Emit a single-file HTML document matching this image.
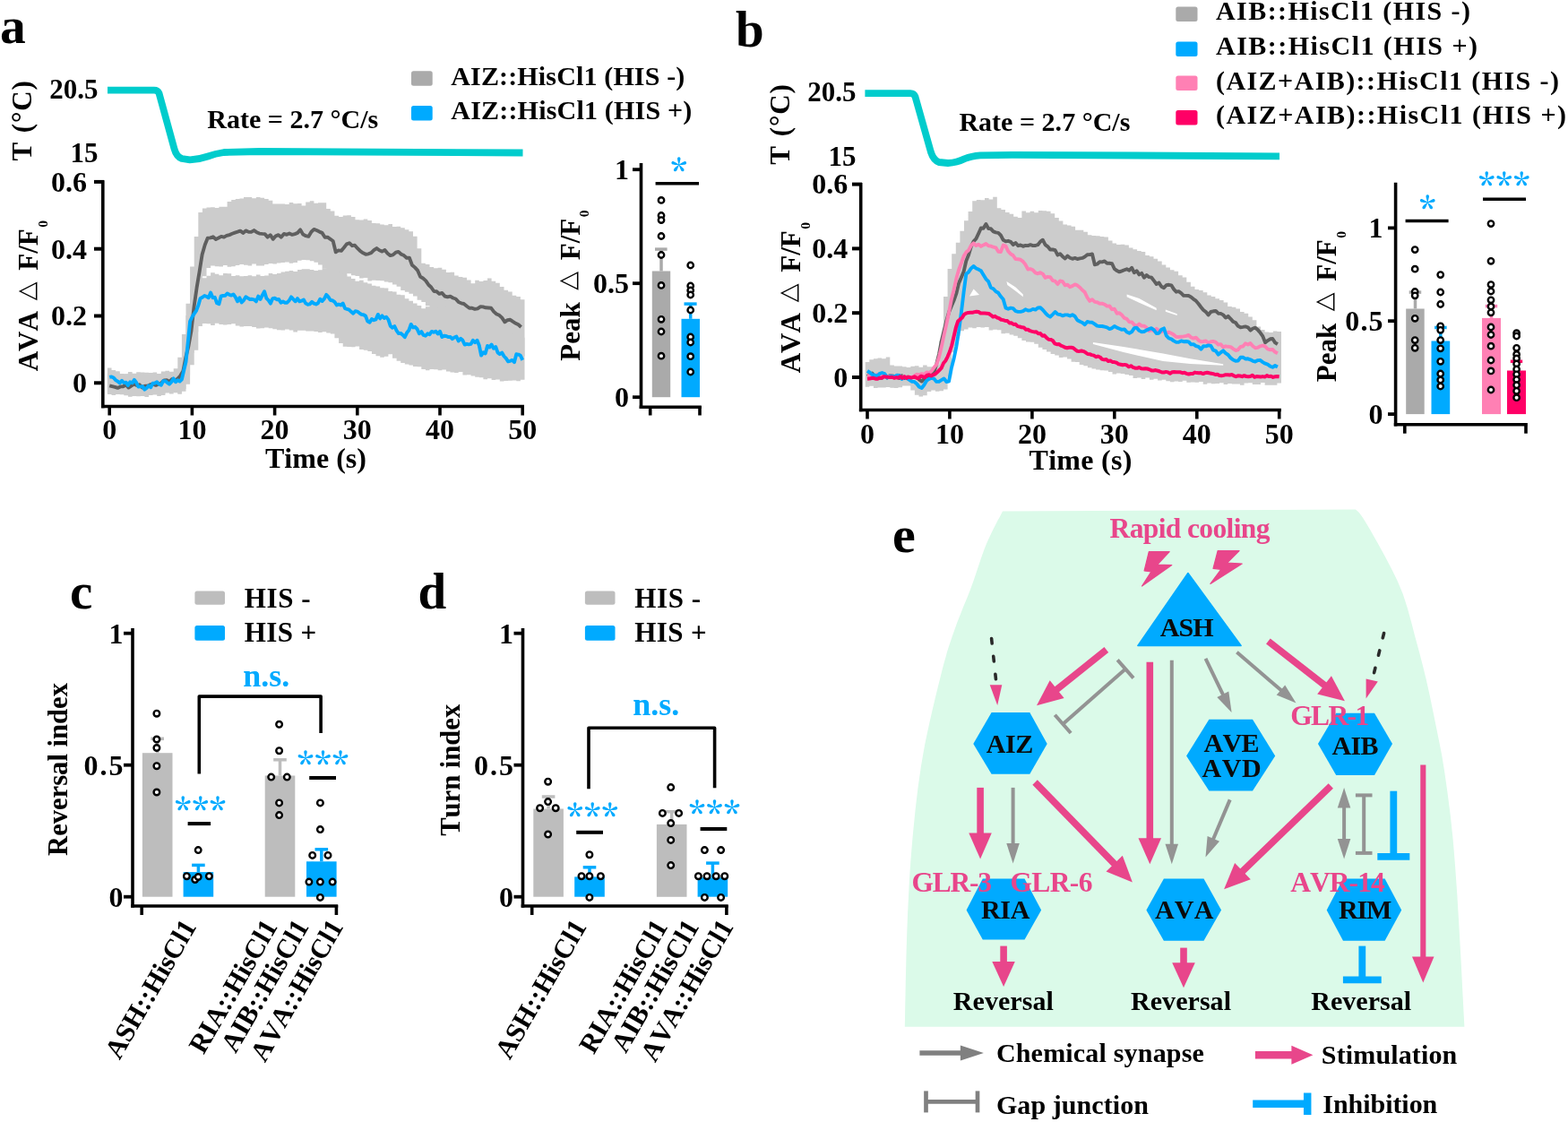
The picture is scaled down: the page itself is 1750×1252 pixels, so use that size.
<!DOCTYPE html>
<html><head><meta charset="utf-8"><title>Figure</title>
<style>html,body{margin:0;padding:0;background:#fff;width:1750px;height:1252px;overflow:hidden}svg{display:block}</style></head>
<body><svg width="1750" height="1252" viewBox="0 0 1750 1252">
<g font-family="'Liberation Serif', 'DejaVu Serif', serif" font-weight="bold" style="font-kerning:none">
<text x="0.0" y="48.0" font-size="57.5" fill="#000" text-anchor="start" >a</text>
<path d="M120,100.6 L172,100.6 Q176,100.6 177.5,104 L194.5,166 Q197,175 203,177 L212,178.3 Q222,178 232,174.5 Q240,171.5 250,170 L290,169 L583.5,170.5" fill="none" stroke="#00cccc" stroke-width="7.8" stroke-linejoin="round"/>
<text transform="translate(35.3,179.6) rotate(-90)" font-size="31"><tspan x="0" y="0">T</tspan><tspan x="31.4" y="0" letter-spacing="0.9">(°C)</tspan></text>
<text x="109.4" y="110.0" font-size="31" fill="#000" text-anchor="end" >20.5</text>
<text x="109.4" y="180.5" font-size="31" fill="#000" text-anchor="end" >15</text>
<text x="231.3" y="142.8" font-size="30" fill="#000" text-anchor="start" textLength="191">Rate = 2.7 °C/s</text>
<rect x="459" y="79.3" width="23.7" height="16.4" rx="2.5" fill="#aaaaaa"/>
<rect x="459" y="118" width="23.7" height="16.6" rx="2.5" fill="#00aaff"/>
<text x="503.3" y="94.6" font-size="30" fill="#000" text-anchor="start" textLength="261">AIZ::HisCl1 (HIS -)</text>
<text x="503.3" y="133.4" font-size="30" fill="#000" text-anchor="start" textLength="269">AIZ::HisCl1 (HIS +)</text>
<polygon points="119.9,410.6 124.5,410.6 124.5,413.1 129.1,413.1 129.1,414.2 133.7,414.2 133.7,417.6 138.3,417.6 138.3,417.2 142.9,417.2 142.9,415.1 147.6,415.1 147.6,417.4 152.2,417.4 152.2,417.5 156.8,417.5 156.8,418.3 161.4,418.3 161.4,418.9 166.0,418.9 166.0,420.1 170.6,420.1 170.6,418.5 175.2,418.5 175.2,417.9 179.8,417.9 179.8,414.4 184.4,414.4 184.4,413.8 189.0,413.8 189.0,414.8 193.7,414.8 193.7,411.3 198.3,411.3 198.3,398.7 202.9,398.7 202.9,373.0 207.5,373.0 207.5,338.8 212.1,338.8 212.1,297.5 216.7,297.5 216.7,263.9 221.3,263.9 221.3,237.1 225.9,237.1 225.9,232.6 230.5,232.6 230.5,231.5 235.1,231.5 235.1,231.3 239.8,231.3 239.8,232.0 244.4,232.0 244.4,230.7 249.0,230.7 249.0,230.8 253.6,230.8 253.6,225.1 258.2,225.1 258.2,223.1 262.8,223.1 262.8,221.9 267.4,221.9 267.4,221.4 272.0,221.4 272.0,220.1 276.6,220.1 276.6,219.9 281.2,219.9 281.2,221.2 285.9,221.2 285.9,219.9 290.5,219.9 290.5,220.7 295.1,220.7 295.1,222.0 299.7,222.0 299.7,223.8 304.3,223.8 304.3,227.4 308.9,227.4 308.9,227.6 313.5,227.6 313.5,227.5 318.1,227.5 318.1,228.1 322.7,228.1 322.7,226.0 327.3,226.0 327.3,227.3 332.0,227.3 332.0,227.0 336.6,227.0 336.6,229.4 341.2,229.4 341.2,225.6 345.8,225.6 345.8,224.3 350.4,224.3 350.4,226.8 355.0,226.8 355.0,226.2 359.6,226.2 359.6,226.2 364.2,226.2 364.2,232.9 368.8,232.9 368.8,235.5 373.4,235.5 373.4,240.7 378.1,240.7 378.1,241.9 382.7,241.9 382.7,240.5 387.3,240.5 387.3,240.3 391.9,240.3 391.9,242.1 396.5,242.1 396.5,245.3 401.1,245.3 401.1,245.5 405.7,245.5 405.7,244.5 410.3,244.5 410.3,246.1 414.9,246.1 414.9,248.9 419.5,248.9 419.5,249.3 424.2,249.3 424.2,250.5 428.8,250.5 428.8,251.3 433.4,251.3 433.4,249.9 438.0,249.9 438.0,252.9 442.6,252.9 442.6,252.8 447.2,252.8 447.2,254.3 451.8,254.3 451.8,256.2 456.4,256.2 456.4,258.3 461.0,258.3 461.0,263.8 465.6,263.8 465.6,277.3 470.3,277.3 470.3,293.8 474.9,293.8 474.9,295.1 479.5,295.1 479.5,298.0 484.1,298.0 484.1,299.3 488.7,299.3 488.7,298.7 493.3,298.7 493.3,300.8 497.9,300.8 497.9,303.9 502.5,303.9 502.5,303.8 507.1,303.8 507.1,307.4 511.7,307.4 511.7,309.0 516.4,309.0 516.4,309.7 521.0,309.7 521.0,312.5 525.6,312.5 525.6,316.3 530.2,316.3 530.2,312.7 534.8,312.7 534.8,314.1 539.4,314.1 539.4,313.0 544.0,313.0 544.0,310.5 548.6,310.5 548.6,313.7 553.2,313.7 553.2,315.7 557.8,315.7 557.8,320.1 562.5,320.1 562.5,323.8 567.1,323.8 567.1,325.5 571.7,325.5 571.7,329.7 576.3,329.7 576.3,331.1 580.9,331.1 580.9,334.2 585.5,334.2 585.5,397.4 580.9,397.4 580.9,394.9 576.3,394.9 576.3,394.4 571.7,394.4 571.7,391.8 567.1,391.8 567.1,389.6 562.5,389.6 562.5,387.6 557.8,387.6 557.8,381.7 553.2,381.7 553.2,379.9 548.6,379.9 548.6,373.9 544.0,373.9 544.0,374.2 539.4,374.2 539.4,372.8 534.8,372.8 534.8,371.4 530.2,371.4 530.2,371.5 525.6,371.5 525.6,367.7 521.0,367.7 521.0,364.5 516.4,364.5 516.4,361.3 511.7,361.3 511.7,359.6 507.1,359.6 507.1,359.4 502.5,359.4 502.5,355.9 497.9,355.9 497.9,354.1 493.3,354.1 493.3,352.9 488.7,352.9 488.7,349.3 484.1,349.3 484.1,346.7 479.5,346.7 479.5,341.3 474.9,341.3 474.9,337.0 470.3,337.0 470.3,334.7 465.6,334.7 465.6,330.6 461.0,330.6 461.0,327.8 456.4,327.8 456.4,325.8 451.8,325.8 451.8,324.1 447.2,324.1 447.2,319.8 442.6,319.8 442.6,317.6 438.0,317.6 438.0,315.2 433.4,315.2 433.4,314.4 428.8,314.4 428.8,313.2 424.2,313.2 424.2,312.9 419.5,312.9 419.5,312.7 414.9,312.7 414.9,313.4 410.3,313.4 410.3,309.9 405.7,309.9 405.7,310.5 401.1,310.5 401.1,307.9 396.5,307.9 396.5,307.2 391.9,307.2 391.9,305.3 387.3,305.3 387.3,311.9 382.7,311.9 382.7,313.7 378.1,313.7 378.1,312.6 373.4,312.6 373.4,310.1 368.8,310.1 368.8,306.3 364.2,306.3 364.2,299.7 359.6,299.7 359.6,295.6 355.0,295.6 355.0,292.7 350.4,292.7 350.4,291.3 345.8,291.3 345.8,290.3 341.2,290.3 341.2,289.9 336.6,289.9 336.6,290.7 332.0,290.7 332.0,292.9 327.3,292.9 327.3,293.8 322.7,293.8 322.7,292.4 318.1,292.4 318.1,293.1 313.5,293.1 313.5,293.6 308.9,293.6 308.9,294.4 304.3,294.4 304.3,293.9 299.7,293.9 299.7,295.0 295.1,295.0 295.1,296.4 290.5,296.4 290.5,296.5 285.9,296.5 285.9,294.5 281.2,294.5 281.2,296.6 276.6,296.6 276.6,295.7 272.0,295.7 272.0,295.1 267.4,295.1 267.4,296.1 262.8,296.1 262.8,297.2 258.2,297.2 258.2,297.8 253.6,297.8 253.6,295.9 249.0,295.9 249.0,297.6 244.4,297.6 244.4,297.3 239.8,297.3 239.8,296.4 235.1,296.4 235.1,298.9 230.5,298.9 230.5,308.2 225.9,308.2 225.9,314.5 221.3,314.5 221.3,390.7 216.7,390.7 216.7,407.2 212.1,407.2 212.1,428.7 207.5,428.7 207.5,434.1 202.9,434.1 202.9,438.8 198.3,438.8 198.3,438.2 193.7,438.2 193.7,437.4 189.0,437.4 189.0,437.2 184.4,437.2 184.4,439.4 179.8,439.4 179.8,437.2 175.2,437.2 175.2,437.8 170.6,437.8 170.6,439.4 166.0,439.4 166.0,439.3 161.4,439.3 161.4,437.6 156.8,437.6 156.8,437.3 152.2,437.3 152.2,439.6 147.6,439.6 147.6,439.5 142.9,439.5 142.9,437.4 138.3,437.4 138.3,438.3 133.7,438.3 133.7,438.6 129.1,438.6 129.1,437.1 124.5,437.1 124.5,438.7 119.9,438.7" fill="#cccccc" />
<polygon points="119.9,416.2 124.5,416.2 124.5,415.6 129.1,415.6 129.1,415.6 133.7,415.6 133.7,417.1 138.3,417.1 138.3,417.5 142.9,417.5 142.9,416.5 147.6,416.5 147.6,416.8 152.2,416.8 152.2,415.2 156.8,415.2 156.8,415.5 161.4,415.5 161.4,415.8 166.0,415.8 166.0,415.9 170.6,415.9 170.6,415.6 175.2,415.6 175.2,417.1 179.8,417.1 179.8,416.3 184.4,416.3 184.4,417.1 189.0,417.1 189.0,414.9 193.7,414.9 193.7,417.4 198.3,417.4 198.3,415.1 202.9,415.1 202.9,398.7 207.5,398.7 207.5,351.9 212.1,351.9 212.1,323.1 216.7,323.1 216.7,315.4 221.3,315.4 221.3,310.3 225.9,310.3 225.9,310.3 230.5,310.3 230.5,307.7 235.1,307.7 235.1,304.3 239.8,304.3 239.8,305.8 244.4,305.8 244.4,307.3 249.0,307.3 249.0,304.9 253.6,304.9 253.6,305.3 258.2,305.3 258.2,308.0 262.8,308.0 262.8,307.3 267.4,307.3 267.4,308.3 272.0,308.3 272.0,308.0 276.6,308.0 276.6,307.3 281.2,307.3 281.2,308.3 285.9,308.3 285.9,306.4 290.5,306.4 290.5,308.0 295.1,308.0 295.1,307.4 299.7,307.4 299.7,305.1 304.3,305.1 304.3,306.0 308.9,306.0 308.9,305.0 313.5,305.0 313.5,303.4 318.1,303.4 318.1,302.7 322.7,302.7 322.7,302.0 327.3,302.0 327.3,303.0 332.0,303.0 332.0,301.0 336.6,301.0 336.6,300.2 341.2,300.2 341.2,300.2 345.8,300.2 345.8,301.1 350.4,301.1 350.4,302.1 355.0,302.1 355.0,301.3 359.6,301.3 359.6,299.6 364.2,299.6 364.2,299.6 368.8,299.6 368.8,301.3 373.4,301.3 373.4,302.8 378.1,302.8 378.1,304.3 382.7,304.3 382.7,306.7 387.3,306.7 387.3,308.6 391.9,308.6 391.9,310.9 396.5,310.9 396.5,313.7 401.1,313.7 401.1,312.7 405.7,312.7 405.7,315.3 410.3,315.3 410.3,316.5 414.9,316.5 414.9,318.8 419.5,318.8 419.5,319.6 424.2,319.6 424.2,321.2 428.8,321.2 428.8,321.5 433.4,321.5 433.4,324.9 438.0,324.9 438.0,325.6 442.6,325.6 442.6,328.8 447.2,328.8 447.2,329.3 451.8,329.3 451.8,333.3 456.4,333.3 456.4,335.7 461.0,335.7 461.0,338.6 465.6,338.6 465.6,340.9 470.3,340.9 470.3,344.2 474.9,344.2 474.9,342.2 479.5,342.2 479.5,342.2 484.1,342.2 484.1,342.9 488.7,342.9 488.7,343.2 493.3,343.2 493.3,342.2 497.9,342.2 497.9,344.1 502.5,344.1 502.5,343.2 507.1,343.2 507.1,346.0 511.7,346.0 511.7,344.2 516.4,344.2 516.4,346.4 521.0,346.4 521.0,347.4 525.6,347.4 525.6,346.1 530.2,346.1 530.2,348.0 534.8,348.0 534.8,353.0 539.4,353.0 539.4,354.6 544.0,354.6 544.0,355.4 548.6,355.4 548.6,360.5 553.2,360.5 553.2,364.5 557.8,364.5 557.8,368.9 562.5,368.9 562.5,372.6 567.1,372.6 567.1,372.2 571.7,372.2 571.7,372.6 576.3,372.6 576.3,373.9 580.9,373.9 580.9,376.8 585.5,376.8 585.5,423.7 580.9,423.7 580.9,425.2 576.3,425.2 576.3,424.4 571.7,424.4 571.7,424.8 567.1,424.8 567.1,424.9 562.5,424.9 562.5,425.5 557.8,425.5 557.8,423.6 553.2,423.6 553.2,423.9 548.6,423.9 548.6,422.3 544.0,422.3 544.0,423.2 539.4,423.2 539.4,421.3 534.8,421.3 534.8,420.8 530.2,420.8 530.2,419.4 525.6,419.4 525.6,418.3 521.0,418.3 521.0,418.6 516.4,418.6 516.4,415.0 511.7,415.0 511.7,416.0 507.1,416.0 507.1,415.5 502.5,415.5 502.5,414.4 497.9,414.4 497.9,412.6 493.3,412.6 493.3,413.3 488.7,413.3 488.7,412.3 484.1,412.3 484.1,412.0 479.5,412.0 479.5,413.2 474.9,413.2 474.9,412.0 470.3,412.0 470.3,409.2 465.6,409.2 465.6,408.9 461.0,408.9 461.0,407.4 456.4,407.4 456.4,406.5 451.8,406.5 451.8,404.9 447.2,404.9 447.2,402.7 442.6,402.7 442.6,399.8 438.0,399.8 438.0,395.3 433.4,395.3 433.4,397.7 428.8,397.7 428.8,398.8 424.2,398.8 424.2,397.3 419.5,397.3 419.5,395.0 414.9,395.0 414.9,392.1 410.3,392.1 410.3,390.7 405.7,390.7 405.7,390.0 401.1,390.0 401.1,386.5 396.5,386.5 396.5,387.2 391.9,387.2 391.9,387.1 387.3,387.1 387.3,386.7 382.7,386.7 382.7,383.0 378.1,383.0 378.1,377.2 373.4,377.2 373.4,372.4 368.8,372.4 368.8,371.6 364.2,371.6 364.2,370.3 359.6,370.3 359.6,371.1 355.0,371.1 355.0,370.0 350.4,370.0 350.4,369.6 345.8,369.6 345.8,369.4 341.2,369.4 341.2,368.7 336.6,368.7 336.6,368.8 332.0,368.8 332.0,370.5 327.3,370.5 327.3,368.4 322.7,368.4 322.7,367.6 318.1,367.6 318.1,368.4 313.5,368.4 313.5,368.2 308.9,368.2 308.9,367.2 304.3,367.2 304.3,366.3 299.7,366.3 299.7,365.6 295.1,365.6 295.1,366.2 290.5,366.2 290.5,366.4 285.9,366.4 285.9,365.0 281.2,365.0 281.2,364.1 276.6,364.1 276.6,363.9 272.0,363.9 272.0,364.5 267.4,364.5 267.4,363.6 262.8,363.6 262.8,361.3 258.2,361.3 258.2,362.0 253.6,362.0 253.6,362.6 249.0,362.6 249.0,362.1 244.4,362.1 244.4,360.7 239.8,360.7 239.8,363.0 235.1,363.0 235.1,361.3 230.5,361.3 230.5,361.1 225.9,361.1 225.9,364.0 221.3,364.0 221.3,370.6 216.7,370.6 216.7,393.7 212.1,393.7 212.1,418.7 207.5,418.7 207.5,436.8 202.9,436.8 202.9,439.7 198.3,439.7 198.3,437.5 193.7,437.5 193.7,439.6 189.0,439.6 189.0,438.6 184.4,438.6 184.4,441.0 179.8,441.0 179.8,442.1 175.2,442.1 175.2,440.6 170.6,440.6 170.6,440.9 166.0,440.9 166.0,443.0 161.4,443.0 161.4,441.9 156.8,441.9 156.8,442.3 152.2,442.3 152.2,442.1 147.6,442.1 147.6,442.7 142.9,442.7 142.9,441.2 138.3,441.2 138.3,440.3 133.7,440.3 133.7,440.1 129.1,440.1 129.1,440.9 124.5,440.9 124.5,439.9 119.9,439.9" fill="#cccccc" />
<polyline points="122.2,430.3 125.2,431.1 128.3,431.9 131.3,432.9 134.4,431.4 137.4,431.2 140.5,429.5 143.5,432.6 146.5,430.7 149.6,428.7 152.6,430.0 155.7,429.3 158.7,432.5 161.8,430.6 164.8,430.8 167.8,429.1 170.9,428.4 173.9,429.9 177.0,428.5 180.0,427.5 183.1,424.4 186.1,424.2 189.1,425.9 192.2,422.9 195.2,424.8 198.3,422.5 201.3,419.3 204.4,413.9 207.4,398.4 210.4,386.2 213.5,368.9 216.5,342.7 219.6,320.9 222.6,303.2 225.6,284.1 228.7,273.2 231.7,265.7 234.8,265.4 237.8,264.3 240.9,267.0 243.9,265.5 246.9,263.9 250.0,264.6 253.0,262.9 256.1,262.1 259.1,260.8 262.2,259.6 265.2,258.7 268.2,257.6 271.3,259.9 274.3,257.4 277.4,258.7 280.4,258.9 283.5,257.1 286.5,259.2 289.5,260.6 292.6,260.9 295.6,261.1 298.7,264.6 301.7,262.2 304.8,266.8 307.8,263.3 310.8,262.2 313.9,264.6 316.9,260.9 320.0,261.8 323.0,260.4 326.1,261.9 329.1,261.1 332.1,259.9 335.2,256.4 338.2,261.6 341.3,263.2 344.3,263.9 347.4,258.7 350.4,255.9 353.4,257.0 356.5,258.6 359.5,259.9 362.6,264.7 365.6,264.7 368.7,266.8 371.7,269.0 374.7,281.3 377.8,279.4 380.8,279.9 383.9,276.2 386.9,272.4 389.9,271.2 393.0,274.2 396.0,273.7 399.1,277.2 402.1,280.2 405.2,282.3 408.2,283.8 411.2,283.3 414.3,282.1 417.3,279.2 420.4,277.1 423.4,279.3 426.5,280.6 429.5,279.0 432.5,282.7 435.6,285.1 438.6,284.4 441.7,281.7 444.7,280.9 447.8,283.7 450.8,285.1 453.8,287.8 456.9,287.8 459.9,295.7 463.0,298.4 466.0,301.6 469.1,308.8 472.1,310.5 475.1,313.1 478.2,317.7 481.2,320.5 484.3,325.0 487.3,325.3 490.4,327.9 493.4,326.9 496.4,330.5 499.5,331.3 502.5,330.6 505.6,332.5 508.6,333.5 511.7,336.9 514.7,338.3 517.7,339.0 520.8,341.5 523.8,343.7 526.9,343.7 529.9,344.9 533.0,344.3 536.0,342.3 539.0,342.4 542.1,343.3 545.1,343.5 548.2,343.8 551.2,347.9 554.2,350.5 557.3,351.8 560.3,354.7 563.4,359.3 566.4,357.2 569.5,356.8 572.5,358.9 575.5,360.8 578.6,362.3 581.6,365.0" fill="none" stroke="#5f5f5f" stroke-width="3.9" stroke-linejoin="round" />
<polyline points="122.2,420.9 124.5,420.4 126.8,421.5 129.1,424.1 131.4,425.6 133.7,427.5 136.0,424.8 138.3,427.1 140.6,426.6 142.9,430.1 145.2,426.3 147.6,427.3 149.9,423.9 152.2,427.0 154.5,431.6 156.8,431.4 159.1,431.1 161.4,434.6 163.7,433.0 166.0,430.2 168.3,432.2 170.6,427.7 172.9,427.5 175.2,426.2 177.5,428.8 179.8,429.8 182.1,425.3 184.4,425.1 186.7,427.0 189.0,428.6 191.4,426.1 193.7,422.4 196.0,426.3 198.3,424.2 200.6,425.6 202.9,423.3 205.2,413.3 207.5,403.8 209.8,381.8 212.1,358.5 214.4,353.8 216.7,350.1 219.0,346.9 221.3,340.9 223.6,332.9 225.9,331.7 228.2,330.0 230.5,330.8 232.8,332.3 235.1,326.6 237.5,332.2 239.8,331.8 242.1,338.3 244.4,339.2 246.7,330.5 249.0,330.0 251.3,329.9 253.6,327.5 255.9,328.8 258.2,329.6 260.5,328.4 262.8,331.6 265.1,336.3 267.4,332.3 269.7,337.4 272.0,335.1 274.3,331.3 276.6,332.6 278.9,334.0 281.2,333.8 283.6,334.3 285.9,336.4 288.2,330.6 290.5,334.0 292.8,329.5 295.1,325.3 297.4,332.9 299.7,335.2 302.0,338.6 304.3,333.1 306.6,332.6 308.9,334.2 311.2,334.0 313.5,337.7 315.8,336.5 318.1,337.8 320.4,337.7 322.7,335.4 325.0,331.4 327.3,333.8 329.7,336.3 332.0,333.0 334.3,336.4 336.6,335.7 338.9,334.5 341.2,338.6 343.5,339.7 345.8,339.4 348.1,336.9 350.4,338.6 352.7,339.5 355.0,338.2 357.3,333.7 359.6,336.0 361.9,333.4 364.2,328.9 366.5,331.4 368.8,335.0 371.1,335.3 373.4,336.9 375.8,340.4 378.1,339.6 380.4,340.5 382.7,338.5 385.0,344.1 387.3,344.8 389.6,345.6 391.9,347.8 394.2,349.8 396.5,347.2 398.8,347.6 401.1,349.3 403.4,350.9 405.7,351.2 408.0,352.5 410.3,358.6 412.6,359.8 414.9,356.1 417.2,357.3 419.5,356.4 421.9,350.9 424.2,355.4 426.5,352.4 428.8,355.1 431.1,353.7 433.4,356.6 435.7,363.7 438.0,365.7 440.3,364.0 442.6,368.8 444.9,372.1 447.2,371.9 449.5,373.7 451.8,376.2 454.1,371.3 456.4,368.5 458.7,361.9 461.0,365.5 463.3,364.8 465.6,367.2 467.9,372.2 470.3,370.1 472.6,374.0 474.9,374.7 477.2,372.3 479.5,373.2 481.8,369.9 484.1,370.8 486.4,369.7 488.7,372.5 491.0,369.7 493.3,376.1 495.6,374.8 497.9,375.0 500.2,376.1 502.5,375.9 504.8,378.2 507.1,376.5 509.4,375.6 511.7,380.5 514.1,377.7 516.4,379.8 518.7,384.6 521.0,383.8 523.3,384.3 525.6,383.9 527.9,379.8 530.2,382.2 532.5,379.7 534.8,385.5 537.1,396.6 539.4,393.2 541.7,394.4 544.0,386.0 546.3,387.5 548.6,384.5 550.9,388.8 553.2,387.0 555.5,393.4 557.8,395.2 560.2,393.6 562.5,397.5 564.8,399.9 567.1,403.3 569.4,402.8 571.7,401.9 574.0,404.2 576.3,395.3 578.6,395.6 580.9,396.8 583.2,401.9" fill="none" stroke="#00aaff" stroke-width="3.9" stroke-linejoin="round" />
<line x1="114.8" y1="201.2" x2="114.8" y2="455.3" stroke="#000" stroke-width="3.6" />
<line x1="113.0" y1="453.5" x2="585.0" y2="453.5" stroke="#000" stroke-width="3.6" />
<line x1="105.0" y1="427.3" x2="116.0" y2="427.3" stroke="#000" stroke-width="4" />
<line x1="105.0" y1="352.5" x2="116.0" y2="352.5" stroke="#000" stroke-width="4" />
<line x1="105.0" y1="277.7" x2="116.0" y2="277.7" stroke="#000" stroke-width="4" />
<line x1="105.0" y1="202.9" x2="116.0" y2="202.9" stroke="#000" stroke-width="4" />
<line x1="122.2" y1="452.0" x2="122.2" y2="463.5" stroke="#000" stroke-width="3.6" />
<line x1="214.4" y1="452.0" x2="214.4" y2="463.5" stroke="#000" stroke-width="3.6" />
<line x1="306.6" y1="452.0" x2="306.6" y2="463.5" stroke="#000" stroke-width="3.6" />
<line x1="398.8" y1="452.0" x2="398.8" y2="463.5" stroke="#000" stroke-width="3.6" />
<line x1="491.0" y1="452.0" x2="491.0" y2="463.5" stroke="#000" stroke-width="3.6" />
<line x1="583.2" y1="452.0" x2="583.2" y2="463.5" stroke="#000" stroke-width="3.6" />
<text x="97.0" y="438.1" font-size="32" fill="#000" text-anchor="end" >0</text>
<text x="97.0" y="363.3" font-size="32" fill="#000" text-anchor="end" >0.2</text>
<text x="97.0" y="288.5" font-size="32" fill="#000" text-anchor="end" >0.4</text>
<text x="97.0" y="213.7" font-size="32" fill="#000" text-anchor="end" >0.6</text>
<text x="122.2" y="490.0" font-size="32" fill="#000" text-anchor="middle" >0</text>
<text x="214.4" y="490.0" font-size="32" fill="#000" text-anchor="middle" >10</text>
<text x="306.6" y="490.0" font-size="32" fill="#000" text-anchor="middle" >20</text>
<text x="398.8" y="490.0" font-size="32" fill="#000" text-anchor="middle" >30</text>
<text x="491.0" y="490.0" font-size="32" fill="#000" text-anchor="middle" >40</text>
<text x="583.2" y="490.0" font-size="32" fill="#000" text-anchor="middle" >50</text>
<text x="352.5" y="521.8" font-size="32" fill="#000" text-anchor="middle" textLength="113">Time (s)</text>
<text transform="translate(42.4,414.3) rotate(-90)" font-size="31" style="font-kerning:none"><tspan x="0" y="0">AVA</tspan><tspan x="79" y="-4.6" font-family="DejaVu Sans" font-weight="normal" font-size="27">△</tspan><tspan x="112.5" y="0">F/F</tspan><tspan x="160.5" y="10.6" font-size="15.5">0</tspan></text>
<line x1="715.5" y1="182.0" x2="715.5" y2="456.0" stroke="#000" stroke-width="3.6" />
<line x1="713.7" y1="454.2" x2="782.8" y2="454.2" stroke="#000" stroke-width="3.6" />
<line x1="706.0" y1="443.2" x2="716.0" y2="443.2" stroke="#000" stroke-width="3.8" />
<line x1="706.0" y1="316.2" x2="716.0" y2="316.2" stroke="#000" stroke-width="3.8" />
<line x1="706.0" y1="189.2" x2="716.0" y2="189.2" stroke="#000" stroke-width="3.8" />
<line x1="725.7" y1="453.0" x2="725.7" y2="463.5" stroke="#000" stroke-width="3.6" />
<line x1="781.0" y1="453.0" x2="781.0" y2="463.5" stroke="#000" stroke-width="3.6" />
<text x="702.0" y="200.2" font-size="32" fill="#000" text-anchor="end" >1</text>
<text x="702.0" y="327.2" font-size="32" fill="#000" text-anchor="end" >0.5</text>
<text x="702.0" y="454.2" font-size="32" fill="#000" text-anchor="end" >0</text>
<rect x="727.8" y="302.5" width="20.4" height="140.7" fill="#aaaaaa"/>
<line x1="738.0" y1="302.5" x2="738.0" y2="278.1" stroke="#aaaaaa" stroke-width="3.5" />
<line x1="731.0" y1="278.1" x2="744.6" y2="278.1" stroke="#aaaaaa" stroke-width="3.5" />
<rect x="760.5" y="355.8" width="20.5" height="87.4" fill="#00aaff"/>
<line x1="770.7" y1="355.8" x2="770.7" y2="339.1" stroke="#00aaff" stroke-width="3.5" />
<line x1="763.5" y1="339.1" x2="777.6" y2="339.1" stroke="#00aaff" stroke-width="3.5" />
<circle cx="738.0" cy="223.4" r="3.2" fill="#fff" stroke="#000" stroke-width="2.4"/>
<circle cx="738.0" cy="240.5" r="3.2" fill="#fff" stroke="#000" stroke-width="2.4"/>
<circle cx="738.0" cy="245.6" r="3.2" fill="#fff" stroke="#000" stroke-width="2.4"/>
<circle cx="738.0" cy="263.5" r="3.2" fill="#fff" stroke="#000" stroke-width="2.4"/>
<circle cx="738.0" cy="284.5" r="3.2" fill="#fff" stroke="#000" stroke-width="2.4"/>
<circle cx="738.0" cy="318.4" r="3.2" fill="#fff" stroke="#000" stroke-width="2.4"/>
<circle cx="738.0" cy="356.3" r="3.2" fill="#fff" stroke="#000" stroke-width="2.4"/>
<circle cx="738.0" cy="370.0" r="3.2" fill="#fff" stroke="#000" stroke-width="2.4"/>
<circle cx="738.0" cy="397.2" r="3.2" fill="#fff" stroke="#000" stroke-width="2.4"/>
<circle cx="770.7" cy="296.0" r="3.2" fill="#fff" stroke="#000" stroke-width="2.4"/>
<circle cx="770.7" cy="319.0" r="3.2" fill="#fff" stroke="#000" stroke-width="2.4"/>
<circle cx="770.7" cy="324.0" r="3.2" fill="#fff" stroke="#000" stroke-width="2.4"/>
<circle cx="770.7" cy="329.0" r="3.2" fill="#fff" stroke="#000" stroke-width="2.4"/>
<circle cx="770.7" cy="346.0" r="3.2" fill="#fff" stroke="#000" stroke-width="2.4"/>
<circle cx="770.7" cy="376.0" r="3.2" fill="#fff" stroke="#000" stroke-width="2.4"/>
<circle cx="770.7" cy="382.0" r="3.2" fill="#fff" stroke="#000" stroke-width="2.4"/>
<circle cx="770.7" cy="397.7" r="3.2" fill="#fff" stroke="#000" stroke-width="2.4"/>
<circle cx="770.7" cy="415.0" r="3.2" fill="#fff" stroke="#000" stroke-width="2.4"/>
<line x1="731.6" y1="204.7" x2="780.0" y2="204.7" stroke="#000" stroke-width="3.6" />
<text x="748.8" y="206.3" font-family="'Noto Serif CJK SC', 'Liberation Serif', serif" font-weight="bold" font-size="37" letter-spacing="1.5" fill="#00aaff">*</text>
<text transform="translate(646.8,402.8) rotate(-90)" font-size="31" style="font-kerning:none"><tspan x="0" y="0">Peak</tspan><tspan x="79" y="-4.6" font-family="DejaVu Sans" font-weight="normal" font-size="27">△</tspan><tspan x="112.5" y="0">F/F</tspan><tspan x="160.5" y="10.6" font-size="15.5">0</tspan></text>
<text x="821.0" y="52.0" font-size="57" fill="#000" text-anchor="start" >b</text>
<path d="M965.4,104.2 L1016,104.2 Q1020,104.2 1021.5,108 L1039,170 Q1042,179 1048,181 L1058,182 Q1068,181.5 1077,177 Q1084,174 1094,173.3 L1130,172.8 L1428,174.3" fill="none" stroke="#00cccc" stroke-width="7.8" stroke-linejoin="round"/>
<text transform="translate(881.4,183.7) rotate(-90)" font-size="31"><tspan x="0" y="0">T</tspan><tspan x="31.4" y="0" letter-spacing="0.9">(°C)</tspan></text>
<text x="955.6" y="113.4" font-size="31" fill="#000" text-anchor="end" >20.5</text>
<text x="955.6" y="184.8" font-size="31" fill="#000" text-anchor="end" >15</text>
<text x="1070.4" y="145.6" font-size="30" fill="#000" text-anchor="start" textLength="191">Rate = 2.7 °C/s</text>
<rect x="1312.3" y="7.4" width="24.2" height="16.5" rx="2.5" fill="#aaaaaa"/>
<rect x="1312.3" y="46.5" width="24.2" height="16.5" rx="2.5" fill="#00aaff"/>
<rect x="1312.3" y="84.6" width="24.2" height="16.5" rx="2.5" fill="#ff80b4"/>
<rect x="1312.3" y="123" width="24.2" height="16.5" rx="2.5" fill="#ff0066"/>
<text x="1357.0" y="22.3" font-size="30" fill="#000" text-anchor="start" textLength="284">AIB::HisCl1 (HIS -)</text>
<text x="1357.0" y="61.3" font-size="30" fill="#000" text-anchor="start" textLength="292">AIB::HisCl1 (HIS +)</text>
<text x="1357.0" y="99.9" font-size="30" fill="#000" text-anchor="start" textLength="383">(AIZ+AIB)::HisCl1 (HIS -)</text>
<text x="1357.0" y="138.0" font-size="30" fill="#000" text-anchor="start" textLength="391">(AIZ+AIB)::HisCl1 (HIS +)</text>
<polygon points="965.7,404.0 970.3,404.0 970.3,401.3 974.9,401.3 974.9,400.3 979.5,400.3 979.5,399.5 984.1,399.5 984.1,400.3 988.7,400.3 988.7,398.6 993.3,398.6 993.3,407.6 997.9,407.6 997.9,408.4 1002.5,408.4 1002.5,408.4 1007.1,408.4 1007.1,409.2 1011.7,409.2 1011.7,409.9 1016.3,409.9 1016.3,408.8 1020.9,408.8 1020.9,408.2 1025.5,408.2 1025.5,409.7 1030.1,409.7 1030.1,407.6 1034.7,407.6 1034.7,409.2 1039.3,409.2 1039.3,409.2 1043.9,409.2 1043.9,406.4 1048.4,406.4 1048.4,380.6 1053.0,380.6 1053.0,331.1 1057.6,331.1 1057.6,299.9 1062.2,299.9 1062.2,283.3 1066.8,283.3 1066.8,270.7 1071.4,270.7 1071.4,257.7 1076.0,257.7 1076.0,246.3 1080.6,246.3 1080.6,236.0 1085.2,236.0 1085.2,224.2 1089.8,224.2 1089.8,223.0 1094.4,223.0 1094.4,223.2 1099.0,223.2 1099.0,220.9 1103.6,220.9 1103.6,222.5 1108.2,222.5 1108.2,219.8 1112.8,219.8 1112.8,232.2 1117.4,232.2 1117.4,234.1 1122.0,234.1 1122.0,236.9 1126.6,236.9 1126.6,238.7 1131.2,238.7 1131.2,241.7 1135.8,241.7 1135.8,243.1 1140.4,243.1 1140.4,235.4 1145.0,235.4 1145.0,237.2 1149.6,237.2 1149.6,235.7 1154.2,235.7 1154.2,237.3 1158.8,237.3 1158.8,235.1 1163.4,235.1 1163.4,235.3 1168.0,235.3 1168.0,235.7 1172.6,235.7 1172.6,238.3 1177.2,238.3 1177.2,243.0 1181.8,243.0 1181.8,246.5 1186.4,246.5 1186.4,250.4 1191.0,250.4 1191.0,251.6 1195.6,251.6 1195.6,252.8 1200.1,252.8 1200.1,256.7 1204.7,256.7 1204.7,256.7 1209.3,256.7 1209.3,258.8 1213.9,258.8 1213.9,262.2 1218.5,262.2 1218.5,262.9 1223.1,262.9 1223.1,263.3 1227.7,263.3 1227.7,264.1 1232.3,264.1 1232.3,264.5 1236.9,264.5 1236.9,268.4 1241.5,268.4 1241.5,271.6 1246.1,271.6 1246.1,272.9 1250.7,272.9 1250.7,272.7 1255.3,272.7 1255.3,273.5 1259.9,273.5 1259.9,276.6 1264.5,276.6 1264.5,278.3 1269.1,278.3 1269.1,279.9 1273.7,279.9 1273.7,281.0 1278.3,281.0 1278.3,284.9 1282.9,284.9 1282.9,286.2 1287.5,286.2 1287.5,288.7 1292.1,288.7 1292.1,291.4 1296.7,291.4 1296.7,295.6 1301.3,295.6 1301.3,298.6 1305.9,298.6 1305.9,301.3 1310.5,301.3 1310.5,302.7 1315.1,302.7 1315.1,307.3 1319.7,307.3 1319.7,309.4 1324.3,309.4 1324.3,314.8 1328.9,314.8 1328.9,319.8 1333.5,319.8 1333.5,323.0 1338.1,323.0 1338.1,323.9 1342.7,323.9 1342.7,326.2 1347.3,326.2 1347.3,329.6 1351.8,329.6 1351.8,330.9 1356.4,330.9 1356.4,333.3 1361.0,333.3 1361.0,335.0 1365.6,335.0 1365.6,337.5 1370.2,337.5 1370.2,341.9 1374.8,341.9 1374.8,342.8 1379.4,342.8 1379.4,344.6 1384.0,344.6 1384.0,347.9 1388.6,347.9 1388.6,349.7 1393.2,349.7 1393.2,353.5 1397.8,353.5 1397.8,357.3 1402.4,357.3 1402.4,364.4 1407.0,364.4 1407.0,368.0 1411.6,368.0 1411.6,370.4 1416.2,370.4 1416.2,371.1 1420.8,371.1 1420.8,369.4 1425.4,369.4 1425.4,370.0 1430.0,370.0 1430.0,427.6 1425.4,427.6 1425.4,429.8 1420.8,429.8 1420.8,429.8 1416.2,429.8 1416.2,429.7 1411.6,429.7 1411.6,427.1 1407.0,427.1 1407.0,429.1 1402.4,429.1 1402.4,429.0 1397.8,429.0 1397.8,427.2 1393.2,427.2 1393.2,427.6 1388.6,427.6 1388.6,429.8 1384.0,429.8 1384.0,428.4 1379.4,428.4 1379.4,428.5 1374.8,428.5 1374.8,428.0 1370.2,428.0 1370.2,429.1 1365.6,429.1 1365.6,427.2 1361.0,427.2 1361.0,427.9 1356.4,427.9 1356.4,428.2 1351.8,428.2 1351.8,427.6 1347.3,427.6 1347.3,428.7 1342.7,428.7 1342.7,426.0 1338.1,426.0 1338.1,426.8 1333.5,426.8 1333.5,426.6 1328.9,426.6 1328.9,426.8 1324.3,426.8 1324.3,424.8 1319.7,424.8 1319.7,426.1 1315.1,426.1 1315.1,425.6 1310.5,425.6 1310.5,426.3 1305.9,426.3 1305.9,425.2 1301.3,425.2 1301.3,423.7 1296.7,423.7 1296.7,424.5 1292.1,424.5 1292.1,422.7 1287.5,422.7 1287.5,423.7 1282.9,423.7 1282.9,421.6 1278.3,421.6 1278.3,423.1 1273.7,423.1 1273.7,421.4 1269.1,421.4 1269.1,422.1 1264.5,422.1 1264.5,418.9 1259.9,418.9 1259.9,418.1 1255.3,418.1 1255.3,416.9 1250.7,416.9 1250.7,416.4 1246.1,416.4 1246.1,417.5 1241.5,417.5 1241.5,415.1 1236.9,415.1 1236.9,413.5 1232.3,413.5 1232.3,413.3 1227.7,413.3 1227.7,412.6 1223.1,412.6 1223.1,411.5 1218.5,411.5 1218.5,410.2 1213.9,410.2 1213.9,408.2 1209.3,408.2 1209.3,406.9 1204.7,406.9 1204.7,404.0 1200.1,404.0 1200.1,403.7 1195.6,403.7 1195.6,400.6 1191.0,400.6 1191.0,398.4 1186.4,398.4 1186.4,399.0 1181.8,399.0 1181.8,396.4 1177.2,396.4 1177.2,395.1 1172.6,395.1 1172.6,392.4 1168.0,392.4 1168.0,389.9 1163.4,389.9 1163.4,387.8 1158.8,387.8 1158.8,383.8 1154.2,383.8 1154.2,381.8 1149.6,381.8 1149.6,381.6 1145.0,381.6 1145.0,380.1 1140.4,380.1 1140.4,377.3 1135.8,377.3 1135.8,374.7 1131.2,374.7 1131.2,373.4 1126.6,373.4 1126.6,371.8 1122.0,371.8 1122.0,372.2 1117.4,372.2 1117.4,368.3 1112.8,368.3 1112.8,367.8 1108.2,367.8 1108.2,368.4 1103.6,368.4 1103.6,365.0 1099.0,365.0 1099.0,365.6 1094.4,365.6 1094.4,364.9 1089.8,364.9 1089.8,366.3 1085.2,366.3 1085.2,365.6 1080.6,365.6 1080.6,367.4 1076.0,367.4 1076.0,369.3 1071.4,369.3 1071.4,374.9 1066.8,374.9 1066.8,393.3 1062.2,393.3 1062.2,420.5 1057.6,420.5 1057.6,434.4 1053.0,434.4 1053.0,436.2 1048.4,436.2 1048.4,436.7 1043.9,436.7 1043.9,435.6 1039.3,435.6 1039.3,437.1 1034.7,437.1 1034.7,441.2 1030.1,441.2 1030.1,442.4 1025.5,442.4 1025.5,440.8 1020.9,440.8 1020.9,435.6 1016.3,435.6 1016.3,430.4 1011.7,430.4 1011.7,430.6 1007.1,430.6 1007.1,432.2 1002.5,432.2 1002.5,433.0 997.9,433.0 997.9,432.7 993.3,432.7 993.3,432.0 988.7,432.0 988.7,432.4 984.1,432.4 984.1,432.5 979.5,432.5 979.5,433.1 974.9,433.1 974.9,430.8 970.3,430.8 970.3,431.8 965.7,431.8" fill="#cccccc" />
<polygon points="1086.6,322.6 1082.0,330.5 1093.0,329.1" fill="#fff" />
<polygon points="1123.4,314.0 1133.5,320.5 1141.8,328.4 1141.8,331.2 1133.5,324.8 1124.3,318.0" fill="#fff" />
<polygon points="1257.6,328.4 1271.4,333.0 1290.7,343.8 1290.7,346.3 1271.4,337.7 1257.6,331.2" fill="#fff" />
<polygon points="1300.8,345.6 1313.7,350.3 1313.7,352.1 1300.8,347.8" fill="#fff" />
<polygon points="1219.9,381.9 1253.9,386.9 1298.1,394.4 1328.4,400.2 1365.2,406.3 1365.2,407.7 1328.4,405.9 1298.1,403.1 1253.9,393.0 1219.9,384.0" fill="#fff" />
<polyline points="968.0,417.4 970.8,419.1 973.5,416.5 976.3,420.6 979.0,418.7 981.8,421.9 984.5,421.7 987.3,418.7 990.1,421.5 992.8,419.1 995.6,419.4 998.3,419.9 1001.1,420.3 1003.9,422.1 1006.6,419.2 1009.4,421.9 1012.1,420.7 1014.9,421.5 1017.6,420.9 1020.4,420.9 1023.2,419.3 1025.9,423.7 1028.7,425.5 1031.4,422.8 1034.2,418.2 1037.0,421.1 1039.7,417.6 1042.5,415.3 1045.2,406.3 1048.0,395.1 1050.7,380.9 1053.5,369.2 1056.3,358.0 1059.0,348.6 1061.8,341.7 1064.5,335.5 1067.3,327.7 1070.1,315.9 1072.8,309.8 1075.6,303.0 1078.3,291.3 1081.1,284.3 1083.8,275.3 1086.6,269.3 1089.4,266.4 1092.1,260.6 1094.9,254.4 1097.6,254.8 1100.4,250.0 1103.2,255.1 1105.9,255.3 1108.7,258.3 1111.4,259.3 1114.2,259.8 1116.9,262.5 1119.7,267.8 1122.5,269.4 1125.2,268.8 1128.0,269.8 1130.7,273.1 1133.5,271.0 1136.3,274.2 1139.0,273.5 1141.8,274.8 1144.5,273.9 1147.3,274.1 1150.0,273.2 1152.8,274.1 1155.6,274.0 1158.3,273.2 1161.1,269.6 1163.8,267.7 1166.6,273.1 1169.3,275.1 1172.1,278.5 1174.9,278.5 1177.6,279.2 1180.4,284.6 1183.1,283.2 1185.9,286.2 1188.7,288.5 1191.4,285.6 1194.2,287.7 1196.9,288.8 1199.7,287.9 1202.4,289.0 1205.2,288.4 1208.0,287.9 1210.7,286.5 1213.5,284.3 1216.2,284.1 1219.0,283.5 1221.8,295.3 1224.5,294.7 1227.3,292.3 1230.0,292.4 1232.8,291.4 1235.5,293.7 1238.3,293.8 1241.1,294.2 1243.8,300.0 1246.6,302.1 1249.3,303.4 1252.1,302.4 1254.9,301.3 1257.6,300.3 1260.4,301.7 1263.1,298.7 1265.9,304.3 1268.6,302.2 1271.4,306.4 1274.2,304.9 1276.9,309.8 1279.7,307.0 1282.4,309.2 1285.2,309.7 1288.0,313.4 1290.7,317.0 1293.5,315.5 1296.2,319.7 1299.0,321.3 1301.7,318.2 1304.5,317.8 1307.3,318.3 1310.0,322.6 1312.8,325.7 1315.5,325.1 1318.3,327.1 1321.0,329.9 1323.8,329.9 1326.6,330.0 1329.3,331.4 1332.1,333.8 1334.8,335.7 1337.6,339.0 1340.4,342.7 1343.1,346.0 1345.9,348.1 1348.6,351.4 1351.4,348.0 1354.1,347.3 1356.9,347.0 1359.7,349.7 1362.4,349.9 1365.2,351.4 1367.9,354.5 1370.7,352.8 1373.5,355.8 1376.2,358.9 1379.0,360.0 1381.7,363.8 1384.5,365.3 1387.2,364.9 1390.0,364.4 1392.8,365.3 1395.5,368.6 1398.3,366.5 1401.0,365.7 1403.8,368.1 1406.6,371.3 1409.3,375.1 1412.1,382.3 1414.8,380.1 1417.6,378.3 1420.3,378.0 1423.1,382.4 1425.9,384.0" fill="none" stroke="#5f5f5f" stroke-width="3.9" stroke-linejoin="round" />
<polyline points="968.0,419.2 970.8,419.3 973.5,419.7 976.3,420.5 979.0,417.9 981.8,421.0 984.5,419.2 987.3,417.9 990.1,421.1 992.8,419.6 995.6,419.7 998.3,422.0 1001.1,421.1 1003.9,420.2 1006.6,421.0 1009.4,419.7 1012.1,421.5 1014.9,421.0 1017.6,421.1 1020.4,419.5 1023.2,417.7 1025.9,418.3 1028.7,417.1 1031.4,418.0 1034.2,415.5 1037.0,416.2 1039.7,414.0 1042.5,410.1 1045.2,406.8 1048.0,398.6 1050.7,387.3 1053.5,374.2 1056.3,361.8 1059.0,348.9 1061.8,334.2 1064.5,323.7 1067.3,311.1 1070.1,301.0 1072.8,293.8 1075.6,285.8 1078.3,281.4 1081.1,279.2 1083.8,274.0 1086.6,271.3 1089.4,274.1 1092.1,272.7 1094.9,274.9 1097.6,273.4 1100.4,272.0 1103.2,274.2 1105.9,274.6 1108.7,275.7 1111.4,276.3 1114.2,280.8 1116.9,281.1 1119.7,273.6 1122.5,274.6 1125.2,280.4 1128.0,283.3 1130.7,285.0 1133.5,289.1 1136.3,289.3 1139.0,289.7 1141.8,291.9 1144.5,295.3 1147.3,300.5 1150.0,300.1 1152.8,301.3 1155.6,304.3 1158.3,305.3 1161.1,304.1 1163.8,305.6 1166.6,309.9 1169.3,308.9 1172.1,309.1 1174.9,313.1 1177.6,313.7 1180.4,317.1 1183.1,313.5 1185.9,314.2 1188.7,318.4 1191.4,317.7 1194.2,320.2 1196.9,319.2 1199.7,317.4 1202.4,318.4 1205.2,320.7 1208.0,323.8 1210.7,326.1 1213.5,332.0 1216.2,335.9 1219.0,334.2 1221.8,336.9 1224.5,337.3 1227.3,338.8 1230.0,338.6 1232.8,339.7 1235.5,341.6 1238.3,341.5 1241.1,345.2 1243.8,344.6 1246.6,349.7 1249.3,349.3 1252.1,351.6 1254.9,354.9 1257.6,355.9 1260.4,359.4 1263.1,359.4 1265.9,362.3 1268.6,364.2 1271.4,361.5 1274.2,363.6 1276.9,363.7 1279.7,365.7 1282.4,369.2 1285.2,367.9 1288.0,369.5 1290.7,366.8 1293.5,368.9 1296.2,370.2 1299.0,367.7 1301.7,372.0 1304.5,370.6 1307.3,371.9 1310.0,373.5 1312.8,375.9 1315.5,376.0 1318.3,375.7 1321.0,375.4 1323.8,374.9 1326.6,373.9 1329.3,376.5 1332.1,377.6 1334.8,376.7 1337.6,379.7 1340.4,381.2 1343.1,381.0 1345.9,380.4 1348.6,382.7 1351.4,381.3 1354.1,380.9 1356.9,381.9 1359.7,384.6 1362.4,384.1 1365.2,387.4 1367.9,386.3 1370.7,386.8 1373.5,387.1 1376.2,389.1 1379.0,391.0 1381.7,390.3 1384.5,386.9 1387.2,386.5 1390.0,383.2 1392.8,384.5 1395.5,383.1 1398.3,386.3 1401.0,388.3 1403.8,387.8 1406.6,386.3 1409.3,385.5 1412.1,386.6 1414.8,389.5 1417.6,390.3 1420.3,390.0 1423.1,392.8 1425.9,394.3" fill="none" stroke="#ff80b4" stroke-width="3.9" stroke-linejoin="round" />
<polyline points="968.0,413.8 970.8,415.7 973.5,418.0 976.3,418.6 979.0,419.8 981.8,416.8 984.5,416.0 987.3,417.0 990.1,421.4 992.8,420.2 995.6,419.8 998.3,420.6 1001.1,418.7 1003.9,419.0 1006.6,423.0 1009.4,420.6 1012.1,422.1 1014.9,423.8 1017.6,425.7 1020.4,425.9 1023.2,428.3 1025.9,431.8 1028.7,433.0 1031.4,429.5 1034.2,424.7 1037.0,422.9 1039.7,421.8 1042.5,422.7 1045.2,425.9 1048.0,425.7 1050.7,424.1 1053.5,422.4 1056.3,426.0 1059.0,425.6 1061.8,411.1 1064.5,400.6 1067.3,387.1 1070.1,369.5 1072.8,349.3 1075.6,325.9 1078.3,305.7 1081.1,303.4 1083.8,299.4 1086.6,297.0 1089.4,299.5 1092.1,300.6 1094.9,302.2 1097.6,306.7 1100.4,311.3 1103.2,314.2 1105.9,320.9 1108.7,322.2 1111.4,325.2 1114.2,326.8 1116.9,330.8 1119.7,334.0 1122.5,343.7 1125.2,344.7 1128.0,343.6 1130.7,344.2 1133.5,347.2 1136.3,347.9 1139.0,347.9 1141.8,347.2 1144.5,345.3 1147.3,346.5 1150.0,346.4 1152.8,344.9 1155.6,345.6 1158.3,343.5 1161.1,343.2 1163.8,345.7 1166.6,349.1 1169.3,351.9 1172.1,353.5 1174.9,350.8 1177.6,348.0 1180.4,350.6 1183.1,351.0 1185.9,352.3 1188.7,351.4 1191.4,351.4 1194.2,352.5 1196.9,351.2 1199.7,353.0 1202.4,357.2 1205.2,358.8 1208.0,360.0 1210.7,362.2 1213.5,359.0 1216.2,359.6 1219.0,359.8 1221.8,361.6 1224.5,363.6 1227.3,364.0 1230.0,364.0 1232.8,364.7 1235.5,365.4 1238.3,367.1 1241.1,366.1 1243.8,363.9 1246.6,365.6 1249.3,366.7 1252.1,367.9 1254.9,367.4 1257.6,370.5 1260.4,371.7 1263.1,370.3 1265.9,366.2 1268.6,365.7 1271.4,368.9 1274.2,370.4 1276.9,370.0 1279.7,368.4 1282.4,367.2 1285.2,366.2 1288.0,368.4 1290.7,372.0 1293.5,371.7 1296.2,367.7 1299.0,366.4 1301.7,374.5 1304.5,377.5 1307.3,378.4 1310.0,380.4 1312.8,381.9 1315.5,381.7 1318.3,380.4 1321.0,381.2 1323.8,381.0 1326.6,381.4 1329.3,384.3 1332.1,384.2 1334.8,386.1 1337.6,386.9 1340.4,389.7 1343.1,386.2 1345.9,386.4 1348.6,385.4 1351.4,385.9 1354.1,390.7 1356.9,391.6 1359.7,395.7 1362.4,393.3 1365.2,391.3 1367.9,394.2 1370.7,396.0 1373.5,399.4 1376.2,401.5 1379.0,402.8 1381.7,402.6 1384.5,398.8 1387.2,398.6 1390.0,400.5 1392.8,400.3 1395.5,401.3 1398.3,402.8 1401.0,403.5 1403.8,402.1 1406.6,402.0 1409.3,404.1 1412.1,405.7 1414.8,406.7 1417.6,408.7 1420.3,409.8 1423.1,408.0 1425.9,409.4" fill="none" stroke="#00aaff" stroke-width="3.9" stroke-linejoin="round" />
<polyline points="968.0,422.8 970.3,422.6 972.6,422.0 974.9,421.8 977.2,422.7 979.5,422.7 981.8,421.7 984.1,421.7 986.4,420.3 988.7,420.6 991.0,420.8 993.3,420.9 995.6,420.7 997.9,421.8 1000.2,421.1 1002.5,421.7 1004.8,420.1 1007.1,422.0 1009.4,420.3 1011.7,421.9 1014.0,420.6 1016.3,421.4 1018.6,421.2 1020.9,420.3 1023.2,422.0 1025.5,421.8 1027.8,419.7 1030.1,420.4 1032.4,421.2 1034.7,418.7 1037.0,418.2 1039.3,419.5 1041.6,418.3 1043.9,417.3 1046.1,415.3 1048.4,413.0 1050.7,410.6 1053.0,405.3 1055.3,402.5 1057.6,398.1 1059.9,392.6 1062.2,385.5 1064.5,375.8 1066.8,365.7 1069.1,358.5 1071.4,356.4 1073.7,354.7 1076.0,350.9 1078.3,349.6 1080.6,348.9 1082.9,348.8 1085.2,348.8 1087.5,348.1 1089.8,347.7 1092.1,348.0 1094.4,349.5 1096.7,349.6 1099.0,349.6 1101.3,349.7 1103.6,350.0 1105.9,351.6 1108.2,353.6 1110.5,352.8 1112.8,354.5 1115.1,355.2 1117.4,356.7 1119.7,357.1 1122.0,358.0 1124.3,358.1 1126.6,360.4 1128.9,360.3 1131.2,362.0 1133.5,361.8 1135.8,364.1 1138.1,364.5 1140.4,365.3 1142.7,365.6 1145.0,367.7 1147.3,367.7 1149.6,369.2 1151.9,369.9 1154.2,370.4 1156.5,370.3 1158.8,372.2 1161.1,372.1 1163.4,374.7 1165.7,374.3 1168.0,376.9 1170.3,378.7 1172.6,378.9 1174.9,380.0 1177.2,383.3 1179.5,384.2 1181.8,384.0 1184.1,385.6 1186.4,386.5 1188.7,387.7 1191.0,388.3 1193.3,387.8 1195.6,387.7 1197.8,388.3 1200.1,390.1 1202.4,391.8 1204.7,391.9 1207.0,391.5 1209.3,392.1 1211.6,393.3 1213.9,395.0 1216.2,395.2 1218.5,396.1 1220.8,396.6 1223.1,398.2 1225.4,397.6 1227.7,398.5 1230.0,400.9 1232.3,401.4 1234.6,401.0 1236.9,403.1 1239.2,402.5 1241.5,403.9 1243.8,404.1 1246.1,404.7 1248.4,406.3 1250.7,406.7 1253.0,407.3 1255.3,406.9 1257.6,407.5 1259.9,409.3 1262.2,408.2 1264.5,409.8 1266.8,410.7 1269.1,410.8 1271.4,410.0 1273.7,411.3 1276.0,411.5 1278.3,411.2 1280.6,411.5 1282.9,412.3 1285.2,413.4 1287.5,413.4 1289.8,413.1 1292.1,413.7 1294.4,414.5 1296.7,415.4 1299.0,415.6 1301.3,414.9 1303.6,415.4 1305.9,416.7 1308.2,415.3 1310.5,415.0 1312.8,415.3 1315.1,415.2 1317.4,415.3 1319.7,416.2 1322.0,415.8 1324.3,416.8 1326.6,417.5 1328.9,417.0 1331.2,417.0 1333.5,415.6 1335.8,416.1 1338.1,416.3 1340.4,416.1 1342.7,417.1 1345.0,416.1 1347.3,415.7 1349.6,416.3 1351.8,416.7 1354.1,417.1 1356.4,418.0 1358.7,417.8 1361.0,419.1 1363.3,419.3 1365.6,418.9 1367.9,418.2 1370.2,418.2 1372.5,418.5 1374.8,418.0 1377.1,419.3 1379.4,420.2 1381.7,419.3 1384.0,419.5 1386.3,420.2 1388.6,419.2 1390.9,420.0 1393.2,420.2 1395.5,420.1 1397.8,418.8 1400.1,420.8 1402.4,420.1 1404.7,420.3 1407.0,420.5 1409.3,420.1 1411.6,420.6 1413.9,419.1 1416.2,420.1 1418.5,419.7 1420.8,420.9 1423.1,420.3 1425.4,420.0 1427.7,420.3" fill="none" stroke="#ff0066" stroke-width="4.0" stroke-linejoin="round" />
<line x1="960.7" y1="204.0" x2="960.7" y2="459.3" stroke="#000" stroke-width="3.6" />
<line x1="958.9" y1="457.5" x2="1429.8" y2="457.5" stroke="#000" stroke-width="3.6" />
<line x1="951.0" y1="421.0" x2="962.0" y2="421.0" stroke="#000" stroke-width="4" />
<line x1="951.0" y1="349.2" x2="962.0" y2="349.2" stroke="#000" stroke-width="4" />
<line x1="951.0" y1="277.4" x2="962.0" y2="277.4" stroke="#000" stroke-width="4" />
<line x1="951.0" y1="205.6" x2="962.0" y2="205.6" stroke="#000" stroke-width="4" />
<line x1="968.0" y1="456.0" x2="968.0" y2="467.5" stroke="#000" stroke-width="3.6" />
<line x1="1059.9" y1="456.0" x2="1059.9" y2="467.5" stroke="#000" stroke-width="3.6" />
<line x1="1151.9" y1="456.0" x2="1151.9" y2="467.5" stroke="#000" stroke-width="3.6" />
<line x1="1243.8" y1="456.0" x2="1243.8" y2="467.5" stroke="#000" stroke-width="3.6" />
<line x1="1335.8" y1="456.0" x2="1335.8" y2="467.5" stroke="#000" stroke-width="3.6" />
<line x1="1427.7" y1="456.0" x2="1427.7" y2="467.5" stroke="#000" stroke-width="3.6" />
<text x="946.3" y="431.8" font-size="32" fill="#000" text-anchor="end" >0</text>
<text x="946.3" y="360.0" font-size="32" fill="#000" text-anchor="end" >0.2</text>
<text x="946.3" y="288.2" font-size="32" fill="#000" text-anchor="end" >0.4</text>
<text x="946.3" y="216.4" font-size="32" fill="#000" text-anchor="end" >0.6</text>
<text x="968.0" y="495.0" font-size="32" fill="#000" text-anchor="middle" >0</text>
<text x="1059.9" y="495.0" font-size="32" fill="#000" text-anchor="middle" >10</text>
<text x="1151.9" y="495.0" font-size="32" fill="#000" text-anchor="middle" >20</text>
<text x="1243.8" y="495.0" font-size="32" fill="#000" text-anchor="middle" >30</text>
<text x="1335.8" y="495.0" font-size="32" fill="#000" text-anchor="middle" >40</text>
<text x="1427.7" y="495.0" font-size="32" fill="#000" text-anchor="middle" >50</text>
<text x="1206.0" y="523.7" font-size="32" fill="#000" text-anchor="middle" textLength="115">Time (s)</text>
<text transform="translate(893,416.3) rotate(-90)" font-size="31" style="font-kerning:none"><tspan x="0" y="0">AVA</tspan><tspan x="79" y="-4.6" font-family="DejaVu Sans" font-weight="normal" font-size="27">△</tspan><tspan x="112.5" y="0">F/F</tspan><tspan x="160.5" y="10.6" font-size="15.5">0</tspan></text>
<line x1="1557.6" y1="203.7" x2="1557.6" y2="475.5" stroke="#000" stroke-width="3.6" />
<line x1="1555.8" y1="473.7" x2="1704.4" y2="473.7" stroke="#000" stroke-width="3.6" />
<line x1="1549.0" y1="462.1" x2="1558.0" y2="462.1" stroke="#000" stroke-width="3.8" />
<line x1="1549.0" y1="358.2" x2="1558.0" y2="358.2" stroke="#000" stroke-width="3.8" />
<line x1="1549.0" y1="254.4" x2="1558.0" y2="254.4" stroke="#000" stroke-width="3.8" />
<line x1="1567.8" y1="472.0" x2="1567.8" y2="483.7" stroke="#000" stroke-width="3.6" />
<line x1="1703.0" y1="472.0" x2="1703.0" y2="483.7" stroke="#000" stroke-width="3.6" />
<text x="1543.6" y="265.4" font-size="32" fill="#000" text-anchor="end" >1</text>
<text x="1544.8" y="369.2" font-size="32" fill="#000" text-anchor="end" letter-spacing="1.2">0.5</text>
<text x="1543.6" y="473.1" font-size="32" fill="#000" text-anchor="end" >0</text>
<rect x="1569.2" y="344.5" width="20.5" height="117.6" fill="#aaaaaa"/>
<line x1="1579.5" y1="344.5" x2="1579.5" y2="326.1" stroke="#aaaaaa" stroke-width="3.5" />
<line x1="1572.7" y1="326.1" x2="1586.2" y2="326.1" stroke="#aaaaaa" stroke-width="3.5" />
<rect x="1597.5" y="380.5" width="20.7" height="81.6" fill="#00aaff"/>
<line x1="1607.8" y1="380.5" x2="1607.8" y2="365.5" stroke="#00aaff" stroke-width="3.5" />
<line x1="1601.1" y1="365.5" x2="1614.6" y2="365.5" stroke="#00aaff" stroke-width="3.5" />
<rect x="1654.0" y="354.9" width="21" height="107.2" fill="#ff80b4"/>
<line x1="1664.5" y1="354.9" x2="1664.5" y2="341.6" stroke="#ff80b4" stroke-width="3.5" />
<line x1="1657.8" y1="341.6" x2="1671.2" y2="341.6" stroke="#ff80b4" stroke-width="3.5" />
<rect x="1682.0" y="413.5" width="21" height="48.6" fill="#ff0066"/>
<line x1="1692.5" y1="413.5" x2="1692.5" y2="403.3" stroke="#ff0066" stroke-width="3.5" />
<line x1="1685.8" y1="403.3" x2="1699.2" y2="403.3" stroke="#ff0066" stroke-width="3.5" />
<circle cx="1579.2" cy="278.6" r="3.2" fill="#fff" stroke="#000" stroke-width="2.4"/>
<circle cx="1579.2" cy="300.2" r="3.2" fill="#fff" stroke="#000" stroke-width="2.4"/>
<circle cx="1579.2" cy="325.5" r="3.2" fill="#fff" stroke="#000" stroke-width="2.4"/>
<circle cx="1579.2" cy="329.8" r="3.2" fill="#fff" stroke="#000" stroke-width="2.4"/>
<circle cx="1579.2" cy="355.3" r="3.2" fill="#fff" stroke="#000" stroke-width="2.4"/>
<circle cx="1579.2" cy="379.6" r="3.2" fill="#fff" stroke="#000" stroke-width="2.4"/>
<circle cx="1579.2" cy="388.3" r="3.2" fill="#fff" stroke="#000" stroke-width="2.4"/>
<circle cx="1607.7" cy="306.6" r="3.2" fill="#fff" stroke="#000" stroke-width="2.4"/>
<circle cx="1607.7" cy="326.0" r="3.2" fill="#fff" stroke="#000" stroke-width="2.4"/>
<circle cx="1607.7" cy="339.5" r="3.2" fill="#fff" stroke="#000" stroke-width="2.4"/>
<circle cx="1607.7" cy="363.8" r="3.2" fill="#fff" stroke="#000" stroke-width="2.4"/>
<circle cx="1607.7" cy="368.3" r="3.2" fill="#fff" stroke="#000" stroke-width="2.4"/>
<circle cx="1607.7" cy="379.6" r="3.2" fill="#fff" stroke="#000" stroke-width="2.4"/>
<circle cx="1607.7" cy="388.8" r="3.2" fill="#fff" stroke="#000" stroke-width="2.4"/>
<circle cx="1607.7" cy="403.3" r="3.2" fill="#fff" stroke="#000" stroke-width="2.4"/>
<circle cx="1607.7" cy="417.0" r="3.2" fill="#fff" stroke="#000" stroke-width="2.4"/>
<circle cx="1607.7" cy="423.9" r="3.2" fill="#fff" stroke="#000" stroke-width="2.4"/>
<circle cx="1607.7" cy="431.0" r="3.2" fill="#fff" stroke="#000" stroke-width="2.4"/>
<circle cx="1664.0" cy="249.6" r="3.2" fill="#fff" stroke="#000" stroke-width="2.4"/>
<circle cx="1664.0" cy="291.3" r="3.2" fill="#fff" stroke="#000" stroke-width="2.4"/>
<circle cx="1664.0" cy="317.6" r="3.2" fill="#fff" stroke="#000" stroke-width="2.4"/>
<circle cx="1664.0" cy="325.0" r="3.2" fill="#fff" stroke="#000" stroke-width="2.4"/>
<circle cx="1664.0" cy="334.8" r="3.2" fill="#fff" stroke="#000" stroke-width="2.4"/>
<circle cx="1664.0" cy="341.9" r="3.2" fill="#fff" stroke="#000" stroke-width="2.4"/>
<circle cx="1664.0" cy="348.8" r="3.2" fill="#fff" stroke="#000" stroke-width="2.4"/>
<circle cx="1664.0" cy="365.0" r="3.2" fill="#fff" stroke="#000" stroke-width="2.4"/>
<circle cx="1664.0" cy="373.5" r="3.2" fill="#fff" stroke="#000" stroke-width="2.4"/>
<circle cx="1664.0" cy="386.2" r="3.2" fill="#fff" stroke="#000" stroke-width="2.4"/>
<circle cx="1664.0" cy="402.0" r="3.2" fill="#fff" stroke="#000" stroke-width="2.4"/>
<circle cx="1664.0" cy="413.9" r="3.2" fill="#fff" stroke="#000" stroke-width="2.4"/>
<circle cx="1664.0" cy="435.0" r="3.2" fill="#fff" stroke="#000" stroke-width="2.4"/>
<circle cx="1692.6" cy="371.7" r="3.2" fill="#fff" stroke="#000" stroke-width="2.4"/>
<circle cx="1692.6" cy="375.0" r="3.2" fill="#fff" stroke="#000" stroke-width="2.4"/>
<circle cx="1692.6" cy="388.3" r="3.2" fill="#fff" stroke="#000" stroke-width="2.4"/>
<circle cx="1692.6" cy="395.4" r="3.2" fill="#fff" stroke="#000" stroke-width="2.4"/>
<circle cx="1692.6" cy="399.9" r="3.2" fill="#fff" stroke="#000" stroke-width="2.4"/>
<circle cx="1692.6" cy="406.0" r="3.2" fill="#fff" stroke="#000" stroke-width="2.4"/>
<circle cx="1692.6" cy="412.0" r="3.2" fill="#fff" stroke="#000" stroke-width="2.4"/>
<circle cx="1692.6" cy="417.8" r="3.2" fill="#fff" stroke="#000" stroke-width="2.4"/>
<circle cx="1692.6" cy="423.6" r="3.2" fill="#fff" stroke="#000" stroke-width="2.4"/>
<circle cx="1692.6" cy="429.7" r="3.2" fill="#fff" stroke="#000" stroke-width="2.4"/>
<circle cx="1692.6" cy="436.3" r="3.2" fill="#fff" stroke="#000" stroke-width="2.4"/>
<circle cx="1692.6" cy="443.7" r="3.2" fill="#fff" stroke="#000" stroke-width="2.4"/>
<line x1="1568.6" y1="246.5" x2="1616.6" y2="246.5" stroke="#000" stroke-width="3.6" />
<line x1="1655.0" y1="222.2" x2="1703.0" y2="222.2" stroke="#000" stroke-width="3.6" />
<text x="1584.3" y="247.5" font-family="'Noto Serif CJK SC', 'Liberation Serif', serif" font-weight="bold" font-size="37" letter-spacing="1.5" fill="#00aaff">*</text>
<text x="1650.3" y="222.3" font-family="'Noto Serif CJK SC', 'Liberation Serif', serif" font-weight="bold" font-size="37" letter-spacing="1.5" fill="#00aaff">***</text>
<text transform="translate(1491,426.2) rotate(-90)" font-size="31" style="font-kerning:none"><tspan x="0" y="0">Peak</tspan><tspan x="79" y="-4.6" font-family="DejaVu Sans" font-weight="normal" font-size="27">△</tspan><tspan x="112.5" y="0">F/F</tspan><tspan x="160.5" y="10.6" font-size="15.5">0</tspan></text>
<text x="78.0" y="678.6" font-size="57" fill="#000" text-anchor="start" >c</text>
<rect x="217.4" y="659.4" width="33.6" height="15.3" rx="2.5" fill="#bdbdbd"/>
<rect x="217.4" y="698" width="33.6" height="16.7" rx="2.5" fill="#00aaff"/>
<text x="272.7" y="678.0" font-size="31" fill="#000" text-anchor="start" textLength="74">HIS -</text>
<text x="272.7" y="715.6" font-size="31" fill="#000" text-anchor="start" textLength="80.5">HIS +</text>
<line x1="148.0" y1="701.0" x2="148.0" y2="1012.8" stroke="#000" stroke-width="3.6" />
<line x1="146.2" y1="1011.0" x2="377.2" y2="1011.0" stroke="#000" stroke-width="3.6" />
<line x1="138.0" y1="1000.7" x2="149.0" y2="1000.7" stroke="#000" stroke-width="3.8" />
<line x1="138.0" y1="853.7" x2="149.0" y2="853.7" stroke="#000" stroke-width="3.8" />
<line x1="138.0" y1="706.7" x2="149.0" y2="706.7" stroke="#000" stroke-width="3.8" />
<line x1="158.2" y1="1010.0" x2="158.2" y2="1021.0" stroke="#000" stroke-width="3.6" />
<line x1="375.4" y1="1010.0" x2="375.4" y2="1021.0" stroke="#000" stroke-width="3.6" />
<text x="137.5" y="717.9" font-size="32" fill="#000" text-anchor="end" >1</text>
<text x="139.5" y="864.9" font-size="32" fill="#000" text-anchor="end" letter-spacing="2">0.5</text>
<text x="137.5" y="1011.9" font-size="32" fill="#000" text-anchor="end" >0</text>
<rect x="158.9" y="840.2" width="33.6" height="160.5" fill="#bdbdbd"/>
<line x1="175.7" y1="840.2" x2="175.7" y2="824.3" stroke="#bdbdbd" stroke-width="3.5" />
<line x1="168.4" y1="824.3" x2="183.0" y2="824.3" stroke="#bdbdbd" stroke-width="3.5" />
<rect x="204.6" y="973.1" width="33.6" height="27.6" fill="#00aaff"/>
<line x1="221.4" y1="973.1" x2="221.4" y2="965.4" stroke="#00aaff" stroke-width="3.5" />
<line x1="214.1" y1="965.4" x2="228.7" y2="965.4" stroke="#00aaff" stroke-width="3.5" />
<rect x="295.7" y="865.5" width="33.6" height="135.2" fill="#bdbdbd"/>
<line x1="312.5" y1="865.5" x2="312.5" y2="847.8" stroke="#bdbdbd" stroke-width="3.5" />
<line x1="305.2" y1="847.8" x2="319.8" y2="847.8" stroke="#bdbdbd" stroke-width="3.5" />
<rect x="342.0" y="961.3" width="33.6" height="39.4" fill="#00aaff"/>
<line x1="358.8" y1="961.3" x2="358.8" y2="947.8" stroke="#00aaff" stroke-width="3.5" />
<line x1="351.5" y1="947.8" x2="366.1" y2="947.8" stroke="#00aaff" stroke-width="3.5" />
<circle cx="174.9" cy="796.2" r="3.3" fill="#fff" stroke="#000" stroke-width="2.4"/>
<circle cx="174.9" cy="825.0" r="3.3" fill="#fff" stroke="#000" stroke-width="2.4"/>
<circle cx="174.9" cy="834.5" r="3.3" fill="#fff" stroke="#000" stroke-width="2.4"/>
<circle cx="174.9" cy="854.7" r="3.3" fill="#fff" stroke="#000" stroke-width="2.4"/>
<circle cx="174.9" cy="884.0" r="3.3" fill="#fff" stroke="#000" stroke-width="2.4"/>
<circle cx="221.2" cy="948.6" r="3.3" fill="#fff" stroke="#000" stroke-width="2.4"/>
<circle cx="208.4" cy="977.7" r="3.3" fill="#fff" stroke="#000" stroke-width="2.4"/>
<circle cx="217.7" cy="981.5" r="3.3" fill="#fff" stroke="#000" stroke-width="2.4"/>
<circle cx="233.4" cy="977.7" r="3.3" fill="#fff" stroke="#000" stroke-width="2.4"/>
<circle cx="221.2" cy="978.5" r="3.3" fill="#fff" stroke="#000" stroke-width="2.4"/>
<circle cx="311.6" cy="808.3" r="3.3" fill="#fff" stroke="#000" stroke-width="2.4"/>
<circle cx="311.6" cy="837.7" r="3.3" fill="#fff" stroke="#000" stroke-width="2.4"/>
<circle cx="302.7" cy="867.1" r="3.3" fill="#fff" stroke="#000" stroke-width="2.4"/>
<circle cx="320.3" cy="867.1" r="3.3" fill="#fff" stroke="#000" stroke-width="2.4"/>
<circle cx="311.6" cy="895.9" r="3.3" fill="#fff" stroke="#000" stroke-width="2.4"/>
<circle cx="311.6" cy="909.6" r="3.3" fill="#fff" stroke="#000" stroke-width="2.4"/>
<circle cx="357.4" cy="895.9" r="3.3" fill="#fff" stroke="#000" stroke-width="2.4"/>
<circle cx="357.4" cy="925.6" r="3.3" fill="#fff" stroke="#000" stroke-width="2.4"/>
<circle cx="348.7" cy="954.4" r="3.3" fill="#fff" stroke="#000" stroke-width="2.4"/>
<circle cx="366.0" cy="954.4" r="3.3" fill="#fff" stroke="#000" stroke-width="2.4"/>
<circle cx="344.9" cy="984.1" r="3.3" fill="#fff" stroke="#000" stroke-width="2.4"/>
<circle cx="357.4" cy="984.1" r="3.3" fill="#fff" stroke="#000" stroke-width="2.4"/>
<circle cx="371.1" cy="984.1" r="3.3" fill="#fff" stroke="#000" stroke-width="2.4"/>
<circle cx="357.4" cy="1001.4" r="3.3" fill="#fff" stroke="#000" stroke-width="2.4"/>
<polyline points="222.3,863.4 222.3,777.1 358.1,777.1 358.1,817.9" fill="none" stroke="#000" stroke-width="3.6" stroke-linejoin="round" stroke-linejoin="miter"/>
<text x="297.3" y="765.8" font-size="36" fill="#00aaff" text-anchor="middle" >n.s.</text>
<text x="195.2" y="918.8" font-family="'Noto Serif CJK SC', 'Liberation Serif', serif" font-weight="bold" font-size="37" letter-spacing="1.5" fill="#00aaff">***</text>
<line x1="209.6" y1="919.1" x2="235.1" y2="919.1" stroke="#000" stroke-width="4" />
<text x="332.1" y="868.3" font-family="'Noto Serif CJK SC', 'Liberation Serif', serif" font-weight="bold" font-size="37" letter-spacing="1.5" fill="#00aaff">***</text>
<line x1="345.2" y1="868.0" x2="375.0" y2="868.0" stroke="#000" stroke-width="4" />
<text transform="translate(75.2,858.5) rotate(-90)" font-size="30.6" text-anchor="middle">Reversal index</text>
<text transform="translate(219.8,1033.8) rotate(-60)" font-size="30.5" text-anchor="end">ASH::HisCl1</text>
<text transform="translate(310.3,1033.8) rotate(-60)" font-size="30.5" text-anchor="end">RIA::HisCl1</text>
<text transform="translate(345.3,1033.8) rotate(-60)" font-size="30.5" text-anchor="end">AIB::HisCl1</text>
<text transform="translate(383.8,1033.8) rotate(-60)" font-size="30.5" text-anchor="end">AVA::HisCl1</text>
<text x="466.5" y="679.4" font-size="57" fill="#000" text-anchor="start" >d</text>
<rect x="652.9" y="659.4" width="33.6" height="15.3" rx="2.5" fill="#bdbdbd"/>
<rect x="652.9" y="698" width="33.6" height="16.7" rx="2.5" fill="#00aaff"/>
<text x="708.2" y="678.0" font-size="31" fill="#000" text-anchor="start" textLength="74">HIS -</text>
<text x="708.2" y="715.6" font-size="31" fill="#000" text-anchor="start" textLength="80.5">HIS +</text>
<line x1="583.5" y1="701.0" x2="583.5" y2="1012.8" stroke="#000" stroke-width="3.6" />
<line x1="581.7" y1="1011.0" x2="812.7" y2="1011.0" stroke="#000" stroke-width="3.6" />
<line x1="573.5" y1="1000.7" x2="584.5" y2="1000.7" stroke="#000" stroke-width="3.8" />
<line x1="573.5" y1="853.7" x2="584.5" y2="853.7" stroke="#000" stroke-width="3.8" />
<line x1="573.5" y1="706.7" x2="584.5" y2="706.7" stroke="#000" stroke-width="3.8" />
<line x1="593.7" y1="1010.0" x2="593.7" y2="1021.0" stroke="#000" stroke-width="3.6" />
<line x1="810.9" y1="1010.0" x2="810.9" y2="1021.0" stroke="#000" stroke-width="3.6" />
<text x="573.0" y="717.9" font-size="32" fill="#000" text-anchor="end" >1</text>
<text x="575.0" y="864.9" font-size="32" fill="#000" text-anchor="end" letter-spacing="2">0.5</text>
<text x="573.0" y="1011.9" font-size="32" fill="#000" text-anchor="end" >0</text>
<rect x="595.3" y="902.5" width="33.6" height="98.2" fill="#bdbdbd"/>
<line x1="612.1" y1="902.5" x2="612.1" y2="889.0" stroke="#bdbdbd" stroke-width="3.5" />
<line x1="604.8" y1="889.0" x2="619.4" y2="889.0" stroke="#bdbdbd" stroke-width="3.5" />
<rect x="641.2" y="978.4" width="33.6" height="22.3" fill="#00aaff"/>
<line x1="658.0" y1="978.4" x2="658.0" y2="967.8" stroke="#00aaff" stroke-width="3.5" />
<line x1="650.7" y1="967.8" x2="665.3" y2="967.8" stroke="#00aaff" stroke-width="3.5" />
<rect x="732.9" y="919.9" width="33.6" height="80.9" fill="#bdbdbd"/>
<line x1="749.7" y1="919.9" x2="749.7" y2="905.7" stroke="#bdbdbd" stroke-width="3.5" />
<line x1="742.4" y1="905.7" x2="757.0" y2="905.7" stroke="#bdbdbd" stroke-width="3.5" />
<rect x="778.6" y="979.2" width="33.6" height="21.5" fill="#00aaff"/>
<line x1="795.4" y1="979.2" x2="795.4" y2="963.1" stroke="#00aaff" stroke-width="3.5" />
<line x1="788.1" y1="963.1" x2="802.7" y2="963.1" stroke="#00aaff" stroke-width="3.5" />
<circle cx="611.6" cy="872.2" r="3.3" fill="#fff" stroke="#000" stroke-width="2.4"/>
<circle cx="602.6" cy="901.7" r="3.3" fill="#fff" stroke="#000" stroke-width="2.4"/>
<circle cx="611.6" cy="894.6" r="3.3" fill="#fff" stroke="#000" stroke-width="2.4"/>
<circle cx="620.2" cy="901.7" r="3.3" fill="#fff" stroke="#000" stroke-width="2.4"/>
<circle cx="611.6" cy="931.0" r="3.3" fill="#fff" stroke="#000" stroke-width="2.4"/>
<circle cx="657.9" cy="953.7" r="3.3" fill="#fff" stroke="#000" stroke-width="2.4"/>
<circle cx="649.0" cy="977.7" r="3.3" fill="#fff" stroke="#000" stroke-width="2.4"/>
<circle cx="657.9" cy="977.7" r="3.3" fill="#fff" stroke="#000" stroke-width="2.4"/>
<circle cx="670.4" cy="977.7" r="3.3" fill="#fff" stroke="#000" stroke-width="2.4"/>
<circle cx="657.9" cy="1001.4" r="3.3" fill="#fff" stroke="#000" stroke-width="2.4"/>
<circle cx="748.7" cy="878.6" r="3.3" fill="#fff" stroke="#000" stroke-width="2.4"/>
<circle cx="739.4" cy="907.4" r="3.3" fill="#fff" stroke="#000" stroke-width="2.4"/>
<circle cx="757.6" cy="907.4" r="3.3" fill="#fff" stroke="#000" stroke-width="2.4"/>
<circle cx="748.7" cy="918.6" r="3.3" fill="#fff" stroke="#000" stroke-width="2.4"/>
<circle cx="748.7" cy="937.4" r="3.3" fill="#fff" stroke="#000" stroke-width="2.4"/>
<circle cx="748.7" cy="965.6" r="3.3" fill="#fff" stroke="#000" stroke-width="2.4"/>
<circle cx="786.4" cy="948.6" r="3.3" fill="#fff" stroke="#000" stroke-width="2.4"/>
<circle cx="804.6" cy="948.6" r="3.3" fill="#fff" stroke="#000" stroke-width="2.4"/>
<circle cx="779.4" cy="977.7" r="3.3" fill="#fff" stroke="#000" stroke-width="2.4"/>
<circle cx="789.0" cy="977.7" r="3.3" fill="#fff" stroke="#000" stroke-width="2.4"/>
<circle cx="799.2" cy="977.7" r="3.3" fill="#fff" stroke="#000" stroke-width="2.4"/>
<circle cx="808.8" cy="977.7" r="3.3" fill="#fff" stroke="#000" stroke-width="2.4"/>
<circle cx="786.4" cy="1001.4" r="3.3" fill="#fff" stroke="#000" stroke-width="2.4"/>
<circle cx="804.6" cy="1001.4" r="3.3" fill="#fff" stroke="#000" stroke-width="2.4"/>
<polyline points="657.0,880.2 657.0,812.2 797.6,812.2 797.6,879.3" fill="none" stroke="#000" stroke-width="3.6" stroke-linejoin="round" stroke-linejoin="miter"/>
<text x="732.3" y="798.4" font-size="36" fill="#00aaff" text-anchor="middle" >n.s.</text>
<text x="632.8" y="925.9" font-family="'Noto Serif CJK SC', 'Liberation Serif', serif" font-weight="bold" font-size="37" letter-spacing="1.5" fill="#00aaff">***</text>
<line x1="643.2" y1="928.8" x2="673.0" y2="928.8" stroke="#000" stroke-width="4" />
<text x="769.1" y="923.3" font-family="'Noto Serif CJK SC', 'Liberation Serif', serif" font-weight="bold" font-size="37" letter-spacing="1.5" fill="#00aaff">***</text>
<line x1="781.6" y1="925.0" x2="811.3" y2="925.0" stroke="#000" stroke-width="4" />
<text transform="translate(513.1,859.3) rotate(-90)" font-size="30.6" text-anchor="middle">Turn index</text>
<text transform="translate(655.3,1033.8) rotate(-60)" font-size="30.5" text-anchor="end">ASH::HisCl1</text>
<text transform="translate(745.8,1033.8) rotate(-60)" font-size="30.5" text-anchor="end">RIA::HisCl1</text>
<text transform="translate(780.8,1033.8) rotate(-60)" font-size="30.5" text-anchor="end">AIB::HisCl1</text>
<text transform="translate(819.3,1033.8) rotate(-60)" font-size="30.5" text-anchor="end">AVA::HisCl1</text>
<polygon points="1512.9,568.5 1514.4,569.7 1516.9,571.9 1521.2,577.9 1528.5,590.0 1537.6,605.9 1546.1,621.5 1553.3,635.3 1559.9,648.8 1565.8,663.0 1570.8,678.5 1575.2,694.6 1579.4,710.8 1583.7,726.5 1587.8,742.2 1591.8,758.6 1595.8,776.4 1599.6,794.9 1603.2,812.7 1606.3,827.9 1609.1,842.3 1612.0,860.0 1615.3,882.9 1618.7,909.2 1621.7,937.4 1624.1,966.8 1626.3,998.2 1628.3,1031.7 1630.6,1072.5 1632.8,1115.5 1634.4,1145.8 1009.8,1145.8 1010.0,1136.8 1010.2,1124.8 1010.5,1110.4 1010.8,1094.5 1011.2,1077.9 1011.6,1061.3 1012.1,1045.6 1012.6,1031.5 1013.1,1018.8 1013.7,1006.5 1014.3,994.7 1014.9,983.1 1015.6,971.7 1016.4,960.3 1017.3,948.9 1018.3,937.2 1019.4,925.4 1020.6,913.6 1021.8,901.8 1023.2,890.1 1024.6,878.3 1026.3,866.5 1028.0,854.7 1030.0,842.9 1032.2,830.8 1034.8,818.2 1037.6,805.5 1040.5,792.8 1043.4,780.5 1046.2,768.9 1048.9,758.2 1051.3,748.6 1053.4,740.4 1055.4,733.4 1057.1,727.3 1058.8,721.8 1060.5,716.7 1062.2,711.7 1064.0,706.6 1066.0,701.0 1068.1,695.1 1070.4,689.3 1072.7,683.4 1075.0,677.6 1077.4,671.8 1079.8,666.0 1082.1,660.2 1084.3,654.3 1086.4,648.4 1088.5,642.3 1090.5,636.2 1092.6,630.1 1094.6,624.1 1096.6,618.3 1098.7,612.6 1100.8,607.2 1103.1,601.9 1105.7,596.4 1108.3,591.1 1110.9,585.9 1113.4,581.1 1115.7,576.9 1117.6,573.3 1119.0,570.5" fill="#dbfae9" />
<text x="996.0" y="616.3" font-size="58" fill="#000" text-anchor="start" >e</text>
<text x="1328.0" y="600.4" font-size="31.5" fill="#e8468b" text-anchor="middle" textLength="179">Rapid cooling</text>
<polygon points="1282.3,615.6 1305.2,615.6 1291.7,630.1 1307.8,630.6 1274.5,654.0 1284.9,637.9 1277.1,636.9" fill="#e8468b" stroke="#e8468b" stroke-width="1.2" stroke-linejoin="round"/>
<polygon points="1359.2,614.5 1383.1,614.5 1369.6,628.0 1386.2,629.1 1350.9,651.4 1362.8,635.3 1354.0,634.3" fill="#e8468b" stroke="#e8468b" stroke-width="1.2" stroke-linejoin="round"/>
<line x1="1345.5" y1="734.8" x2="1365.2" y2="775.6" stroke="#939393" stroke-width="4.0" />
<polygon points="1374.6,795.0 1358.3,777.9 1371.3,771.6" fill="#939393" />
<line x1="1380.4" y1="727.8" x2="1430.2" y2="770.6" stroke="#939393" stroke-width="4.0" />
<polygon points="1446.5,784.6 1424.7,775.4 1434.2,764.4" fill="#939393" />
<line x1="1307.8" y1="736.8" x2="1307.8" y2="942.8" stroke="#939393" stroke-width="4.0" />
<polygon points="1307.8,964.3 1300.5,941.8 1315.0,941.8" fill="#939393" />
<line x1="1130.6" y1="878.9" x2="1130.6" y2="942.0" stroke="#939393" stroke-width="4.0" />
<polygon points="1130.6,963.5 1123.3,941.0 1137.8,941.0" fill="#939393" />
<line x1="1372.7" y1="892.4" x2="1353.9" y2="936.8" stroke="#939393" stroke-width="4.0" />
<polygon points="1345.5,956.6 1347.6,933.1 1361.0,938.7" fill="#939393" />
<line x1="1500.1" y1="918.0" x2="1500.1" y2="900.4" stroke="#939393" stroke-width="4.0" />
<polygon points="1500.1,878.9 1507.3,901.4 1492.8,901.4" fill="#939393" />
<line x1="1500.1" y1="918.0" x2="1500.1" y2="937.0" stroke="#939393" stroke-width="4.0" />
<polygon points="1500.1,958.5 1492.8,936.0 1507.3,936.0" fill="#939393" />
<line x1="1256.1" y1="746.5" x2="1186.2" y2="807.9" stroke="#939393" stroke-width="4.0" />
<line x1="1247.2" y1="736.4" x2="1265.0" y2="756.6" stroke="#939393" stroke-width="4.0" />
<line x1="1177.3" y1="797.8" x2="1195.1" y2="818.0" stroke="#939393" stroke-width="4.0" />
<line x1="1522.2" y1="887.4" x2="1522.2" y2="951.9" stroke="#939393" stroke-width="4.0" />
<line x1="1512.9" y1="887.4" x2="1531.5" y2="887.4" stroke="#939393" stroke-width="4.0" />
<line x1="1512.9" y1="951.9" x2="1531.5" y2="951.9" stroke="#939393" stroke-width="4.0" />
<line x1="1234.8" y1="725.0" x2="1178.9" y2="769.8" stroke="#e8468b" stroke-width="7.6" />
<polygon points="1157.0,787.3 1171.7,759.2 1187.6,779.1" fill="#e8468b" />
<line x1="1415.4" y1="715.4" x2="1478.8" y2="765.0" stroke="#e8468b" stroke-width="7.6" />
<polygon points="1500.9,782.2 1470.2,774.4 1485.9,754.3" fill="#e8468b" />
<line x1="1283.3" y1="738.7" x2="1283.3" y2="936.3" stroke="#e8468b" stroke-width="7.6" />
<polygon points="1283.3,964.3 1270.5,935.3 1296.0,935.3" fill="#e8468b" />
<line x1="1094.1" y1="878.9" x2="1094.1" y2="930.5" stroke="#e8468b" stroke-width="7.6" />
<polygon points="1094.1,958.5 1081.3,929.5 1106.8,929.5" fill="#e8468b" />
<line x1="1155.1" y1="873.0" x2="1244.3" y2="964.5" stroke="#e8468b" stroke-width="7.6" />
<polygon points="1263.9,984.5 1234.5,972.6 1252.8,954.8" fill="#e8468b" />
<line x1="1485.3" y1="876.9" x2="1386.2" y2="972.8" stroke="#e8468b" stroke-width="7.6" />
<polygon points="1366.1,992.3 1378.1,963.0 1395.8,981.3" fill="#e8468b" />
<line x1="1588.3" y1="853.6" x2="1588.3" y2="1068.4" stroke="#e8468b" stroke-width="6.1" />
<polygon points="1588.3,1096.4 1576.0,1067.4 1600.5,1067.4" fill="#e8468b" />
<line x1="1120.1" y1="1055.6" x2="1120.1" y2="1074.0" stroke="#e8468b" stroke-width="7.6" />
<polygon points="1120.1,1101.0 1107.3,1073.0 1132.8,1073.0" fill="#e8468b" />
<line x1="1321.0" y1="1057.6" x2="1321.0" y2="1075.2" stroke="#e8468b" stroke-width="7.6" />
<polygon points="1321.0,1102.2 1308.2,1074.2 1333.8,1074.2" fill="#e8468b" />
<line x1="1555.3" y1="882.7" x2="1555.3" y2="955.8" stroke="#00aaff" stroke-width="7.8" />
<line x1="1537.3" y1="955.8" x2="1573.3" y2="955.8" stroke="#00aaff" stroke-width="7.8" />
<line x1="1520.3" y1="1055.6" x2="1520.3" y2="1093.3" stroke="#00aaff" stroke-width="7.8" />
<line x1="1498.9" y1="1093.3" x2="1541.7" y2="1093.3" stroke="#00aaff" stroke-width="7.8" />
<line x1="1106.6" y1="712.5" x2="1111.9" y2="762.0" stroke="#2a2a2a" stroke-width="3.6" stroke-dasharray="5.5,14.5" stroke-linecap="round"/>
<polygon points="1113.2,787.0 1104.7,764.3 1118.3,764.3" fill="#e8468b" />
<line x1="1544.6" y1="706.5" x2="1532.0" y2="757.0" stroke="#2a2a2a" stroke-width="3.6" stroke-dasharray="5.5,14.5" stroke-linecap="round"/>
<polygon points="1524.6,779.5 1524.6,757.5 1537.8,760.5" fill="#e8468b" />
<polygon points="1325.9,639.5 1269.9,720.5 1385.1,720.5" fill="#00aaff" stroke="#00aaff" stroke-width="1.5" stroke-linejoin="round"/>
<polygon points="1086.3,830.0 1106.6,795.0 1149.3,795.0 1168.7,830.0 1149.3,863.8 1106.6,863.8" fill="#00aaff" />
<polygon points="1324.1,843.6 1349.4,802.8 1398.0,802.8 1423.2,843.6 1398.0,882.5 1349.4,882.5" fill="#00aaff" />
<polygon points="1471.0,830.0 1491.2,795.8 1534.0,795.8 1554.0,830.0 1534.0,865.0 1491.2,865.0" fill="#00aaff" />
<polygon points="1078.6,1015.6 1096.8,980.6 1143.5,980.6 1162.1,1015.6 1143.5,1048.6 1096.8,1048.6" fill="#00aaff" />
<polygon points="1279.4,1015.6 1298.9,980.6 1343.5,980.6 1363.0,1015.6 1343.5,1049.8 1298.9,1049.8" fill="#00aaff" />
<polygon points="1480.7,1015.6 1499.0,980.6 1545.6,980.6 1564.2,1015.6 1545.6,1049.8 1499.0,1049.8" fill="#00aaff" />
<text x="1324.7" y="709.6" font-size="30" fill="#0a0a0a" text-anchor="middle" textLength="60">ASH</text>
<text x="1127.0" y="839.7" font-size="30" fill="#0a0a0a" text-anchor="middle" textLength="52.5">AIZ</text>
<text x="1374.6" y="839.0" font-size="30" fill="#0a0a0a" text-anchor="middle" textLength="62">AVE</text>
<text x="1374.6" y="867.0" font-size="30" fill="#0a0a0a" text-anchor="middle" textLength="66">AVD</text>
<text x="1512.5" y="841.7" font-size="30" fill="#0a0a0a" text-anchor="middle" textLength="52">AIB</text>
<text x="1122.1" y="1024.5" font-size="30" fill="#0a0a0a" text-anchor="middle" textLength="54.4">RIA</text>
<text x="1321.7" y="1024.5" font-size="30" fill="#0a0a0a" text-anchor="middle" textLength="65.3">AVA</text>
<text x="1523.6" y="1024.5" font-size="30" fill="#0a0a0a" text-anchor="middle" textLength="59.4">RIM</text>
<text x="1440.2" y="808.6" font-size="31.5" fill="#e8468b" text-anchor="start" textLength="88">GLR-1</text>
<text x="1017.5" y="995.4" font-size="31.5" fill="#e8468b" text-anchor="start" textLength="89.5">GLR-3</text>
<text x="1127.4" y="995.4" font-size="31.5" fill="#e8468b" text-anchor="start" textLength="92">GLR-6</text>
<text x="1440.2" y="994.6" font-size="31.5" fill="#e8468b" text-anchor="start" textLength="105.5">AVR-14</text>
<text x="1063.8" y="1126.7" font-size="30" fill="#000" text-anchor="start" textLength="112">Reversal</text>
<text x="1262.0" y="1126.7" font-size="30" fill="#000" text-anchor="start" textLength="112">Reversal</text>
<text x="1463.2" y="1126.7" font-size="30" fill="#000" text-anchor="start" textLength="112">Reversal</text>
<line x1="1026.4" y1="1175.0" x2="1072.9" y2="1175.0" stroke="#808080" stroke-width="5.4" />
<polygon points="1097.9,1175.0 1071.9,1183.5 1071.9,1166.5" fill="#808080" />
<text x="1111.9" y="1184.7" font-size="30" fill="#000" text-anchor="start" textLength="232">Chemical synapse</text>
<line x1="1033.5" y1="1229.4" x2="1091.0" y2="1229.4" stroke="#808080" stroke-width="4.7" />
<line x1="1033.5" y1="1241.4" x2="1033.5" y2="1217.4" stroke="#808080" stroke-width="4.7" />
<line x1="1091.0" y1="1241.4" x2="1091.0" y2="1217.4" stroke="#808080" stroke-width="4.7" />
<text x="1111.9" y="1243.0" font-size="30" fill="#000" text-anchor="start" textLength="170">Gap junction</text>
<line x1="1400.9" y1="1177.3" x2="1442.4" y2="1177.3" stroke="#e8468b" stroke-width="8.5" />
<polygon points="1465.4,1177.3 1441.4,1187.8 1441.4,1166.8" fill="#e8468b" />
<text x="1474.8" y="1187.4" font-size="30" fill="#000" text-anchor="start" textLength="151.5">Stimulation</text>
<line x1="1398.2" y1="1231.7" x2="1459.2" y2="1231.7" stroke="#00aaff" stroke-width="8.5" />
<line x1="1459.2" y1="1244.0" x2="1459.2" y2="1219.5" stroke="#00aaff" stroke-width="8.5" />
<text x="1476.3" y="1241.8" font-size="30" fill="#000" text-anchor="start" textLength="128">Inhibition</text>
</g></svg></body></html>
